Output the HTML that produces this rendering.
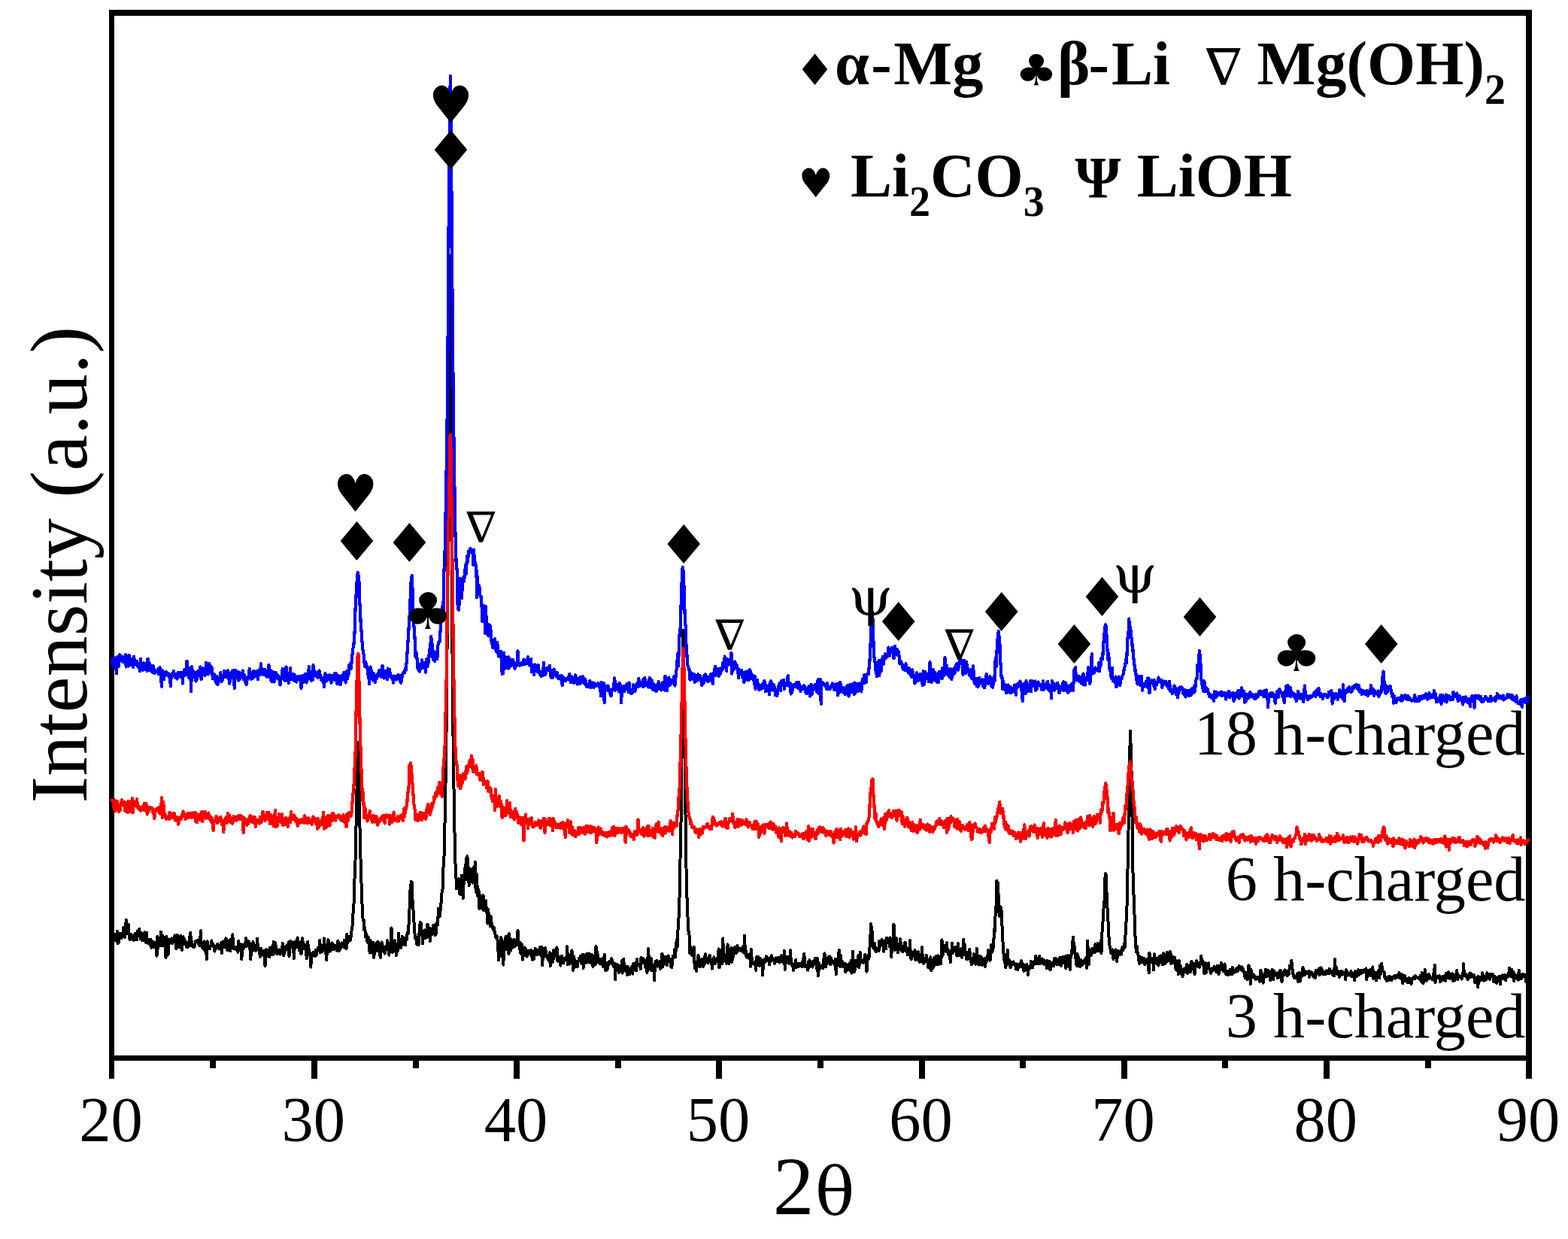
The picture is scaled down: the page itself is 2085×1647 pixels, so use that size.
<!DOCTYPE html>
<html lang="en"><head><meta charset="utf-8"><title>XRD patterns</title>
<style>html,body{margin:0;padding:0;background:#fff;overflow:hidden}svg{display:block}text{font-family:"Liberation Serif","DejaVu Serif",serif;fill:#000;font-weight:normal}text.ls{font-family:"Liberation Serif","DejaVu Serif",serif}text.lsb{font-family:"Liberation Serif","DejaVu Serif",serif;font-weight:bold}text.dm{font-family:"DejaVu Math TeX Gyre","DejaVu Serif","DejaVu Sans",serif}text.ds{font-family:"DejaVu Sans","DejaVu Serif",sans-serif}text.dsr{font-family:"DejaVu Serif","DejaVu Sans",serif}.b text, text.b{font-weight:bold}</style>
</head><body>
<svg width="2085" height="1647" viewBox="0 0 2085 1647" role="img" aria-label="XRD patterns of charged samples">
<rect width="2085" height="1647" fill="#fff"/>
<g fill="#000" shape-rendering="crispEdges">
<rect x="145" y="13" width="7" height="1421"/>
<rect x="2029" y="13" width="8" height="1421"/>
<rect x="145" y="13" width="1892" height="8"/>
<rect x="145" y="1403" width="1892" height="7"/>
<rect x="279" y="1403" width="8" height="17"/>
<rect x="414" y="1403" width="8" height="31"/>
<rect x="549" y="1403" width="8" height="17"/>
<rect x="683" y="1403" width="8" height="31"/>
<rect x="818" y="1403" width="8" height="17"/>
<rect x="952" y="1403" width="8" height="31"/>
<rect x="1087" y="1403" width="8" height="17"/>
<rect x="1222" y="1403" width="8" height="31"/>
<rect x="1356" y="1403" width="8" height="17"/>
<rect x="1491" y="1403" width="8" height="31"/>
<rect x="1625" y="1403" width="8" height="17"/>
<rect x="1760" y="1403" width="8" height="31"/>
<rect x="1895" y="1403" width="8" height="17"/>
</g>
<g fill="none" stroke-linejoin="round" stroke-linecap="round" shape-rendering="crispEdges">
<polyline stroke="#000" stroke-width="4.0" points="148.5,1247.0 149.3,1253.5 150.1,1259.6 150.9,1244.6 151.7,1245.7 152.5,1241.8 153.3,1250.0 154.1,1246.6 154.9,1250.7 155.7,1238.0 156.5,1254.3 157.3,1245.9 158.1,1252.9 158.9,1244.7 159.7,1240.8 160.5,1246.3 161.3,1247.3 162.1,1240.6 162.9,1240.6 163.7,1245.1 164.5,1232.6 165.3,1234.2 166.1,1245.8 166.9,1238.7 167.7,1222.6 168.5,1234.5 169.3,1241.0 170.1,1238.0 170.9,1228.8 171.7,1244.7 172.5,1249.2 173.3,1243.9 174.1,1241.6 174.9,1247.2 175.7,1248.8 176.5,1243.8 177.3,1247.8 178.1,1250.1 178.9,1243.9 179.7,1240.8 180.5,1246.3 181.3,1245.6 182.1,1249.5 182.9,1237.6 183.7,1240.3 184.5,1239.1 185.3,1234.6 186.1,1243.5 186.9,1248.2 187.7,1239.3 188.5,1249.8 189.3,1247.4 190.1,1250.2 190.9,1246.3 191.7,1249.5 192.5,1239.2 193.3,1249.3 194.1,1253.3 194.9,1239.5 195.7,1250.5 196.5,1248.5 197.3,1254.3 198.1,1249.2 198.9,1252.0 199.7,1256.2 200.5,1249.1 201.3,1259.8 202.1,1253.5 202.9,1256.6 203.7,1251.8 204.5,1259.4 205.3,1256.9 206.1,1252.9 206.9,1256.5 207.7,1259.1 208.5,1270.7 209.3,1244.9 210.1,1260.8 210.9,1253.8 211.7,1250.4 212.5,1246.4 213.3,1256.9 214.1,1238.4 214.9,1253.7 215.7,1257.3 216.5,1244.0 217.3,1248.7 218.1,1245.9 218.9,1254.8 219.7,1259.8 220.5,1273.0 221.3,1244.9 222.1,1250.6 222.9,1256.6 223.7,1268.8 224.5,1254.9 225.3,1249.1 226.1,1253.6 226.9,1251.7 227.7,1250.3 228.5,1247.3 229.3,1254.2 230.1,1251.4 230.9,1249.2 231.7,1247.3 232.5,1243.3 233.3,1247.0 234.1,1261.2 234.9,1247.5 235.7,1242.7 236.5,1255.7 237.3,1252.1 238.1,1259.6 238.9,1250.2 239.7,1245.6 240.5,1243.6 241.3,1256.7 242.1,1262.8 242.9,1247.4 243.7,1245.3 244.5,1254.9 245.3,1248.8 246.1,1250.5 246.9,1252.0 247.7,1254.9 248.5,1259.4 249.3,1254.7 250.1,1258.9 250.9,1252.7 251.7,1256.0 252.5,1244.4 253.3,1239.9 254.1,1257.4 254.9,1250.7 255.7,1255.9 256.5,1258.4 257.3,1259.2 258.1,1257.0 258.9,1258.1 259.7,1252.7 260.5,1250.9 261.3,1251.2 262.1,1250.2 262.9,1250.1 263.7,1253.0 264.5,1255.3 265.3,1257.1 266.1,1252.6 266.9,1237.2 267.7,1255.4 268.5,1256.6 269.3,1260.4 270.1,1260.8 270.9,1252.0 271.7,1251.5 272.5,1263.9 273.3,1258.1 274.1,1263.0 274.9,1275.4 275.7,1251.2 276.5,1256.9 277.3,1257.6 278.1,1258.4 278.9,1261.5 279.7,1257.5 280.5,1257.7 281.3,1250.4 282.1,1256.8 282.9,1254.5 283.7,1258.7 284.5,1256.3 285.3,1264.6 286.1,1262.6 286.9,1260.4 287.7,1260.6 288.5,1259.6 289.3,1254.9 290.1,1258.5 290.9,1257.0 291.7,1261.0 292.5,1259.2 293.3,1261.7 294.1,1252.9 294.9,1267.3 295.7,1255.1 296.5,1251.3 297.3,1257.3 298.1,1255.4 298.9,1259.1 299.7,1255.0 300.5,1247.2 301.3,1253.4 302.1,1263.1 302.9,1257.1 303.7,1251.4 304.5,1256.6 305.3,1249.3 306.1,1264.3 306.9,1249.1 307.7,1260.6 308.5,1258.5 309.3,1242.2 310.1,1257.7 310.9,1261.2 311.7,1259.2 312.5,1258.8 313.3,1262.4 314.1,1259.4 314.9,1260.6 315.7,1258.9 316.5,1265.8 317.3,1251.0 318.1,1263.6 318.9,1255.2 319.7,1254.9 320.5,1261.2 321.3,1275.5 322.1,1263.3 322.9,1256.3 323.7,1261.5 324.5,1256.0 325.3,1257.3 326.1,1258.1 326.9,1247.1 327.7,1258.4 328.5,1252.9 329.3,1251.1 330.1,1251.3 330.9,1251.4 331.7,1254.3 332.5,1262.6 333.3,1275.2 334.1,1259.5 334.9,1265.0 335.7,1259.1 336.5,1251.9 337.3,1262.1 338.1,1262.7 338.9,1258.8 339.7,1263.7 340.5,1263.5 341.3,1257.3 342.1,1247.5 342.9,1260.9 343.7,1260.4 344.5,1261.3 345.3,1267.9 346.1,1271.7 346.9,1260.5 347.7,1268.0 348.5,1269.3 349.3,1268.4 350.1,1269.9 350.9,1263.5 351.7,1268.4 352.5,1284.2 353.3,1268.6 354.1,1262.3 354.9,1267.8 355.7,1270.8 356.5,1266.9 357.3,1262.8 358.1,1272.2 358.9,1259.6 359.7,1267.3 360.5,1264.6 361.3,1259.0 362.1,1269.3 362.9,1264.9 363.7,1251.8 364.5,1268.1 365.3,1260.1 366.1,1253.4 366.9,1258.7 367.7,1263.0 368.5,1268.0 369.3,1263.0 370.1,1262.9 370.9,1265.0 371.7,1262.3 372.5,1268.7 373.3,1264.2 374.1,1265.0 374.9,1266.1 375.7,1253.7 376.5,1260.3 377.3,1270.1 378.1,1264.6 378.9,1261.5 379.7,1263.8 380.5,1257.3 381.3,1262.5 382.1,1257.7 382.9,1261.2 383.7,1252.3 384.5,1271.4 385.3,1253.4 386.1,1250.8 386.9,1256.7 387.7,1254.1 388.5,1259.0 389.3,1252.5 390.1,1259.5 390.9,1274.2 391.7,1252.2 392.5,1261.2 393.3,1256.6 394.1,1258.7 394.9,1249.5 395.7,1246.4 396.5,1259.0 397.3,1256.2 398.1,1263.5 398.9,1252.6 399.7,1256.3 400.5,1268.5 401.3,1251.9 402.1,1247.0 402.9,1255.9 403.7,1256.5 404.5,1261.4 405.3,1259.2 406.1,1256.4 406.9,1262.0 407.7,1274.2 408.5,1269.2 409.3,1251.9 410.1,1264.8 410.9,1262.2 411.7,1269.5 412.5,1266.2 413.3,1285.7 414.1,1271.3 414.9,1270.9 415.7,1268.4 416.5,1266.0 417.3,1267.3 418.1,1271.3 418.9,1267.4 419.7,1263.0 420.5,1270.1 421.3,1264.9 422.1,1263.4 422.9,1259.8 423.7,1260.6 424.5,1259.9 425.3,1249.6 426.1,1266.5 426.9,1263.9 427.7,1259.7 428.5,1264.9 429.3,1261.6 430.1,1262.7 430.9,1247.4 431.7,1256.2 432.5,1263.4 433.3,1265.6 434.1,1276.1 434.9,1265.1 435.7,1253.5 436.5,1249.2 437.3,1265.1 438.1,1260.1 438.9,1264.6 439.7,1259.1 440.5,1261.4 441.3,1253.3 442.1,1261.9 442.9,1255.1 443.7,1262.3 444.5,1260.4 445.3,1257.2 446.1,1258.6 446.9,1256.6 447.7,1263.7 448.5,1258.5 449.3,1250.8 450.1,1253.5 450.9,1264.4 451.7,1256.1 452.5,1261.3 453.3,1258.8 454.1,1254.4 454.9,1253.5 455.7,1257.4 456.5,1257.7 457.3,1259.0 458.1,1249.7 458.9,1252.3 459.7,1253.5 460.5,1261.3 461.3,1241.7 462.1,1254.0 462.9,1248.2 463.7,1251.4 464.5,1245.0 465.3,1246.9 466.1,1250.0 466.9,1242.2 467.7,1235.9 468.5,1231.7 469.3,1215.1 470.1,1211.4 470.9,1191.7 471.7,1160.9 472.5,1143.9 473.3,1106.0 474.1,1077.8 474.9,1021.4 475.7,987.0 476.5,998.4 477.3,1027.0 478.1,1078.6 478.9,1122.0 479.7,1147.9 480.5,1174.1 481.3,1195.8 482.1,1217.9 482.9,1223.8 483.7,1223.0 484.5,1236.6 485.3,1233.9 486.1,1245.6 486.9,1241.5 487.7,1243.6 488.5,1252.2 489.3,1252.8 490.1,1246.4 490.9,1259.0 491.7,1266.6 492.5,1250.1 493.3,1266.3 494.1,1255.2 494.9,1256.7 495.7,1258.6 496.5,1253.1 497.3,1272.9 498.1,1262.7 498.9,1257.1 499.7,1259.3 500.5,1253.5 501.3,1258.7 502.1,1264.5 502.9,1252.0 503.7,1257.7 504.5,1260.2 505.3,1269.7 506.1,1272.6 506.9,1255.0 507.7,1252.3 508.5,1264.1 509.3,1258.1 510.1,1258.4 510.9,1264.8 511.7,1267.6 512.5,1262.2 513.3,1257.5 514.1,1261.8 514.9,1250.2 515.7,1258.7 516.5,1253.7 517.3,1269.6 518.1,1261.8 518.9,1259.0 519.7,1256.4 520.5,1233.5 521.3,1265.3 522.1,1265.7 522.9,1254.5 523.7,1260.9 524.5,1260.9 525.3,1250.1 526.1,1261.5 526.9,1270.3 527.7,1257.7 528.5,1256.0 529.3,1263.9 530.1,1240.5 530.9,1256.6 531.7,1260.4 532.5,1249.4 533.3,1259.8 534.1,1253.0 534.9,1245.0 535.7,1253.4 536.5,1249.2 537.3,1254.8 538.1,1246.8 538.9,1256.5 539.7,1246.3 540.5,1249.8 541.3,1242.1 542.1,1239.2 542.9,1240.7 543.7,1225.9 544.5,1208.6 545.3,1185.3 546.1,1178.6 546.9,1172.0 547.7,1172.3 548.5,1195.6 549.3,1205.8 550.1,1220.1 550.9,1231.1 551.7,1244.0 552.5,1248.0 553.3,1245.4 554.1,1254.7 554.9,1256.0 555.7,1254.2 556.5,1256.2 557.3,1243.4 558.1,1230.7 558.9,1226.0 559.7,1226.7 560.5,1243.7 561.3,1239.7 562.1,1254.6 562.9,1242.9 563.7,1244.4 564.5,1236.4 565.3,1244.8 566.1,1246.6 566.9,1244.0 567.7,1246.1 568.5,1228.6 569.3,1233.3 570.1,1235.6 570.9,1233.7 571.7,1251.3 572.5,1240.4 573.3,1239.5 574.1,1242.4 574.9,1235.0 575.7,1235.0 576.5,1229.6 577.3,1241.1 578.1,1239.5 578.9,1243.0 579.7,1241.1 580.5,1227.2 581.3,1229.9 582.1,1229.3 582.9,1208.0 583.7,1215.4 584.5,1218.5 585.3,1212.7 586.1,1207.0 586.9,1194.2 587.7,1184.3 588.5,1182.3 589.3,1156.1 590.1,1146.3 590.9,1130.8 591.7,1083.4 592.5,1042.7 593.3,991.2 594.1,919.5 594.9,811.5 595.7,670.6 596.5,507.3 597.3,368.4 598.1,340.0 598.9,432.5 599.7,562.7 600.5,720.4 601.3,844.3 602.1,940.4 602.9,1015.7 603.7,1058.6 604.5,1106.5 605.3,1145.7 606.1,1154.4 606.9,1181.5 607.7,1181.2 608.5,1174.6 609.3,1179.0 610.1,1168.1 610.9,1187.0 611.7,1174.2 612.5,1189.4 613.3,1187.2 614.1,1163.6 614.9,1179.9 615.7,1194.2 616.5,1163.7 617.3,1174.0 618.1,1154.6 618.9,1168.5 619.7,1141.8 620.5,1169.1 621.3,1138.2 622.1,1145.1 622.9,1165.1 623.7,1176.9 624.5,1154.2 625.3,1171.6 626.1,1160.7 626.9,1158.3 627.7,1170.5 628.5,1173.6 629.3,1154.1 630.1,1167.9 630.9,1167.6 631.7,1145.5 632.5,1180.5 633.3,1186.1 634.1,1162.1 634.9,1190.8 635.7,1182.2 636.5,1183.4 637.3,1207.8 638.1,1190.2 638.9,1194.9 639.7,1202.4 640.5,1202.9 641.3,1208.7 642.1,1190.2 642.9,1191.5 643.7,1210.4 644.5,1200.5 645.3,1210.3 646.1,1197.4 646.9,1212.2 647.7,1208.5 648.5,1227.7 649.3,1209.0 650.1,1222.1 650.9,1222.7 651.7,1231.4 652.5,1218.0 653.3,1226.5 654.1,1227.0 654.9,1232.9 655.7,1234.9 656.5,1232.4 657.3,1238.8 658.1,1238.3 658.9,1245.6 659.7,1244.3 660.5,1243.9 661.3,1248.7 662.1,1252.6 662.9,1276.5 663.7,1251.1 664.5,1256.3 665.3,1271.2 666.1,1246.0 666.9,1248.3 667.7,1251.4 668.5,1256.8 669.3,1282.7 670.1,1261.3 670.9,1263.0 671.7,1255.9 672.5,1244.9 673.3,1245.6 674.1,1261.7 674.9,1257.7 675.7,1243.5 676.5,1268.2 677.3,1241.1 678.1,1262.2 678.9,1263.6 679.7,1248.6 680.5,1250.7 681.3,1259.7 682.1,1250.1 682.9,1259.1 683.7,1249.1 684.5,1258.4 685.3,1254.9 686.1,1252.5 686.9,1250.5 687.7,1256.2 688.5,1236.7 689.3,1253.5 690.1,1255.1 690.9,1261.0 691.7,1252.8 692.5,1267.6 693.3,1259.0 694.1,1255.9 694.9,1275.7 695.7,1270.4 696.5,1262.3 697.3,1259.5 698.1,1264.1 698.9,1261.1 699.7,1263.0 700.5,1271.7 701.3,1266.3 702.1,1265.2 702.9,1266.1 703.7,1264.2 704.5,1268.3 705.3,1268.5 706.1,1262.8 706.9,1265.1 707.7,1275.8 708.5,1266.9 709.3,1264.4 710.1,1274.8 710.9,1265.8 711.7,1261.0 712.5,1269.3 713.3,1262.3 714.1,1264.1 714.9,1269.4 715.7,1264.9 716.5,1262.4 717.3,1263.0 718.1,1259.4 718.9,1269.8 719.7,1261.0 720.5,1258.6 721.3,1283.3 722.1,1261.6 722.9,1271.1 723.7,1270.9 724.5,1265.1 725.3,1260.2 726.1,1269.4 726.9,1271.3 727.7,1273.4 728.5,1270.1 729.3,1275.7 730.1,1276.9 730.9,1266.2 731.7,1284.4 732.5,1271.7 733.3,1268.2 734.1,1269.2 734.9,1278.7 735.7,1274.7 736.5,1262.6 737.3,1271.0 738.1,1270.5 738.9,1270.8 739.7,1270.0 740.5,1259.5 741.3,1277.6 742.1,1270.5 742.9,1273.7 743.7,1273.3 744.5,1273.2 745.3,1283.6 746.1,1278.5 746.9,1270.5 747.7,1272.5 748.5,1274.3 749.3,1280.3 750.1,1276.3 750.9,1276.6 751.7,1273.9 752.5,1274.1 753.3,1276.1 754.1,1258.2 754.9,1282.3 755.7,1268.2 756.5,1273.2 757.3,1281.7 758.1,1277.3 758.9,1276.9 759.7,1274.7 760.5,1263.5 761.3,1279.1 762.1,1289.9 762.9,1271.4 763.7,1286.1 764.5,1275.9 765.3,1278.1 766.1,1283.9 766.9,1282.0 767.7,1285.1 768.5,1278.9 769.3,1277.5 770.1,1273.6 770.9,1275.9 771.7,1270.6 772.5,1273.5 773.3,1281.5 774.1,1275.1 774.9,1268.6 775.7,1286.9 776.5,1272.1 777.3,1269.8 778.1,1280.1 778.9,1279.5 779.7,1269.5 780.5,1268.0 781.3,1270.1 782.1,1279.2 782.9,1271.7 783.7,1267.4 784.5,1274.7 785.3,1280.1 786.1,1269.1 786.9,1273.6 787.7,1269.5 788.5,1284.9 789.3,1283.6 790.1,1280.1 790.9,1275.7 791.7,1282.5 792.5,1257.8 793.3,1279.5 794.1,1265.1 794.9,1271.7 795.7,1274.5 796.5,1274.6 797.3,1280.4 798.1,1281.3 798.9,1281.1 799.7,1275.1 800.5,1282.4 801.3,1279.3 802.1,1285.2 802.9,1276.6 803.7,1268.9 804.5,1278.8 805.3,1290.0 806.1,1282.9 806.9,1280.0 807.7,1288.8 808.5,1282.8 809.3,1282.5 810.1,1278.2 810.9,1280.4 811.7,1280.6 812.5,1276.7 813.3,1274.3 814.1,1279.3 814.9,1282.6 815.7,1284.2 816.5,1280.5 817.3,1280.7 818.1,1302.2 818.9,1281.7 819.7,1284.5 820.5,1289.2 821.3,1282.2 822.1,1283.8 822.9,1293.0 823.7,1291.7 824.5,1286.8 825.3,1288.0 826.1,1287.7 826.9,1277.3 827.7,1293.7 828.5,1288.6 829.3,1274.8 830.1,1289.5 830.9,1283.8 831.7,1287.2 832.5,1291.7 833.3,1287.6 834.1,1295.9 834.9,1284.7 835.7,1291.5 836.5,1294.7 837.3,1295.1 838.1,1291.9 838.9,1288.0 839.7,1286.8 840.5,1284.7 841.3,1294.7 842.1,1280.9 842.9,1285.3 843.7,1282.1 844.5,1283.1 845.3,1279.4 846.1,1290.5 846.9,1275.3 847.7,1281.9 848.5,1281.7 849.3,1282.8 850.1,1281.9 850.9,1283.6 851.7,1288.4 852.5,1272.9 853.3,1279.3 854.1,1274.1 854.9,1280.4 855.7,1274.5 856.5,1275.6 857.3,1279.6 858.1,1286.0 858.9,1282.6 859.7,1281.4 860.5,1292.9 861.3,1276.0 862.1,1261.1 862.9,1276.1 863.7,1277.3 864.5,1284.9 865.3,1288.8 866.1,1274.1 866.9,1290.5 867.7,1286.9 868.5,1284.1 869.3,1282.4 870.1,1303.1 870.9,1282.4 871.7,1277.7 872.5,1282.8 873.3,1276.6 874.1,1284.6 874.9,1282.2 875.7,1284.0 876.5,1284.1 877.3,1278.0 878.1,1287.9 878.9,1277.9 879.7,1285.8 880.5,1267.6 881.3,1285.3 882.1,1278.3 882.9,1281.8 883.7,1275.8 884.5,1272.1 885.3,1276.5 886.1,1281.3 886.9,1283.3 887.7,1273.8 888.5,1270.3 889.3,1274.8 890.1,1277.6 890.9,1275.8 891.7,1274.8 892.5,1285.5 893.3,1285.8 894.1,1279.2 894.9,1270.8 895.7,1273.6 896.5,1270.5 897.3,1262.1 898.1,1272.3 898.9,1258.9 899.7,1249.8 900.5,1259.6 901.3,1238.8 902.1,1227.1 902.9,1212.9 903.7,1187.7 904.5,1142.4 905.3,1103.7 906.1,1063.9 906.9,957.7 907.7,880.3 908.5,838.0 909.3,870.2 910.1,947.5 910.9,1039.3 911.7,1096.8 912.5,1153.9 913.3,1189.3 914.1,1205.2 914.9,1231.7 915.7,1239.5 916.5,1242.5 917.3,1267.4 918.1,1258.3 918.9,1266.9 919.7,1260.6 920.5,1270.5 921.3,1268.7 922.1,1270.6 922.9,1258.8 923.7,1287.4 924.5,1278.4 925.3,1281.0 926.1,1290.9 926.9,1280.8 927.7,1284.1 928.5,1270.0 929.3,1283.5 930.1,1281.1 930.9,1285.1 931.7,1283.7 932.5,1276.8 933.3,1274.6 934.1,1277.8 934.9,1284.9 935.7,1283.1 936.5,1282.5 937.3,1271.5 938.1,1268.1 938.9,1276.6 939.7,1277.6 940.5,1276.1 941.3,1280.1 942.1,1276.8 942.9,1273.0 943.7,1269.9 944.5,1278.5 945.3,1278.1 946.1,1277.0 946.9,1287.6 947.7,1276.1 948.5,1277.6 949.3,1272.3 950.1,1274.8 950.9,1281.2 951.7,1278.6 952.5,1275.2 953.3,1277.7 954.1,1276.2 954.9,1267.6 955.7,1261.4 956.5,1286.5 957.3,1279.8 958.1,1275.6 958.9,1267.8 959.7,1263.0 960.5,1280.9 961.3,1247.4 962.1,1272.1 962.9,1276.8 963.7,1272.8 964.5,1274.8 965.3,1269.3 966.1,1280.8 966.9,1264.5 967.7,1255.3 968.5,1269.2 969.3,1281.2 970.1,1266.5 970.9,1271.1 971.7,1263.4 972.5,1260.0 973.3,1278.9 974.1,1272.3 974.9,1272.0 975.7,1260.6 976.5,1259.4 977.3,1259.3 978.1,1263.5 978.9,1267.1 979.7,1266.4 980.5,1256.9 981.3,1263.9 982.1,1262.7 982.9,1262.6 983.7,1261.7 984.5,1260.6 985.3,1264.0 986.1,1261.8 986.9,1262.4 987.7,1258.5 988.5,1266.1 989.3,1262.5 990.1,1243.4 990.9,1267.5 991.7,1264.0 992.5,1272.3 993.3,1268.8 994.1,1270.6 994.9,1273.5 995.7,1273.7 996.5,1270.6 997.3,1267.6 998.1,1284.9 998.9,1261.7 999.7,1275.6 1000.5,1280.2 1001.3,1280.9 1002.1,1279.7 1002.9,1280.4 1003.7,1282.5 1004.5,1278.1 1005.3,1289.8 1006.1,1272.1 1006.9,1277.7 1007.7,1273.4 1008.5,1271.7 1009.3,1279.8 1010.1,1283.7 1010.9,1274.2 1011.7,1274.3 1012.5,1280.9 1013.3,1280.3 1014.1,1296.4 1014.9,1282.7 1015.7,1279.2 1016.5,1275.1 1017.3,1279.0 1018.1,1277.0 1018.9,1271.4 1019.7,1277.0 1020.5,1275.7 1021.3,1273.8 1022.1,1273.6 1022.9,1282.5 1023.7,1277.8 1024.5,1278.7 1025.3,1271.9 1026.1,1270.3 1026.9,1273.8 1027.7,1276.4 1028.5,1274.3 1029.3,1275.5 1030.1,1281.0 1030.9,1278.6 1031.7,1273.4 1032.5,1276.0 1033.3,1275.0 1034.1,1278.5 1034.9,1272.5 1035.7,1276.4 1036.5,1279.7 1037.3,1276.5 1038.1,1272.1 1038.9,1270.2 1039.7,1276.7 1040.5,1277.6 1041.3,1279.1 1042.1,1275.0 1042.9,1263.9 1043.7,1288.8 1044.5,1277.4 1045.3,1278.1 1046.1,1279.2 1046.9,1272.0 1047.7,1275.1 1048.5,1277.5 1049.3,1280.8 1050.1,1276.7 1050.9,1263.3 1051.7,1275.8 1052.5,1278.7 1053.3,1283.2 1054.1,1281.4 1054.9,1289.7 1055.7,1285.9 1056.5,1286.3 1057.3,1285.3 1058.1,1276.0 1058.9,1286.0 1059.7,1285.3 1060.5,1280.7 1061.3,1285.5 1062.1,1284.8 1062.9,1281.0 1063.7,1282.3 1064.5,1281.6 1065.3,1283.7 1066.1,1280.8 1066.9,1285.0 1067.7,1274.5 1068.5,1281.6 1069.3,1267.7 1070.1,1280.9 1070.9,1285.2 1071.7,1283.1 1072.5,1282.6 1073.3,1283.3 1074.1,1289.6 1074.9,1278.1 1075.7,1286.6 1076.5,1276.2 1077.3,1280.6 1078.1,1284.0 1078.9,1278.8 1079.7,1283.3 1080.5,1285.5 1081.3,1277.3 1082.1,1282.0 1082.9,1280.7 1083.7,1274.0 1084.5,1281.4 1085.3,1278.7 1086.1,1287.7 1086.9,1274.0 1087.7,1297.1 1088.5,1279.4 1089.3,1289.7 1090.1,1286.1 1090.9,1285.1 1091.7,1284.2 1092.5,1284.3 1093.3,1286.1 1094.1,1287.2 1094.9,1276.4 1095.7,1273.9 1096.5,1267.5 1097.3,1277.0 1098.1,1285.3 1098.9,1279.9 1099.7,1278.6 1100.5,1276.6 1101.3,1272.3 1102.1,1277.0 1102.9,1280.1 1103.7,1271.3 1104.5,1282.4 1105.3,1273.6 1106.1,1279.1 1106.9,1278.5 1107.7,1280.3 1108.5,1278.1 1109.3,1278.3 1110.1,1282.8 1110.9,1274.5 1111.7,1295.1 1112.5,1281.1 1113.3,1282.2 1114.1,1282.7 1114.9,1275.2 1115.7,1262.5 1116.5,1283.3 1117.3,1285.4 1118.1,1270.2 1118.9,1283.5 1119.7,1278.1 1120.5,1283.0 1121.3,1284.7 1122.1,1285.4 1122.9,1285.5 1123.7,1281.0 1124.5,1292.4 1125.3,1283.2 1126.1,1287.1 1126.9,1289.1 1127.7,1285.2 1128.5,1281.4 1129.3,1289.6 1130.1,1282.3 1130.9,1283.1 1131.7,1276.6 1132.5,1293.6 1133.3,1284.0 1134.1,1264.5 1134.9,1287.2 1135.7,1292.2 1136.5,1290.3 1137.3,1276.8 1138.1,1281.7 1138.9,1283.1 1139.7,1284.4 1140.5,1280.7 1141.3,1270.2 1142.1,1286.2 1142.9,1281.5 1143.7,1266.1 1144.5,1276.3 1145.3,1278.7 1146.1,1277.1 1146.9,1279.1 1147.7,1279.8 1148.5,1278.3 1149.3,1274.3 1150.1,1268.9 1150.9,1277.1 1151.7,1279.9 1152.5,1291.6 1153.3,1271.5 1154.1,1269.9 1154.9,1275.2 1155.7,1271.7 1156.5,1259.0 1157.3,1247.7 1158.1,1228.0 1158.9,1233.2 1159.7,1238.5 1160.5,1253.9 1161.3,1260.4 1162.1,1261.1 1162.9,1253.8 1163.7,1259.9 1164.5,1265.1 1165.3,1262.7 1166.1,1260.5 1166.9,1263.9 1167.7,1264.3 1168.5,1264.3 1169.3,1251.0 1170.1,1258.7 1170.9,1256.2 1171.7,1252.8 1172.5,1249.0 1173.3,1255.1 1174.1,1250.6 1174.9,1264.9 1175.7,1253.1 1176.5,1251.9 1177.3,1250.4 1178.1,1261.3 1178.9,1246.7 1179.7,1250.2 1180.5,1247.3 1181.3,1251.0 1182.1,1252.0 1182.9,1258.3 1183.7,1246.3 1184.5,1254.1 1185.3,1272.1 1186.1,1252.9 1186.9,1255.2 1187.7,1246.9 1188.5,1228.6 1189.3,1255.7 1190.1,1262.9 1190.9,1254.4 1191.7,1247.1 1192.5,1258.8 1193.3,1256.2 1194.1,1266.5 1194.9,1260.7 1195.7,1255.0 1196.5,1258.7 1197.3,1248.1 1198.1,1263.1 1198.9,1260.1 1199.7,1264.3 1200.5,1265.0 1201.3,1257.6 1202.1,1260.8 1202.9,1253.2 1203.7,1253.1 1204.5,1263.2 1205.3,1265.3 1206.1,1260.0 1206.9,1269.2 1207.7,1266.9 1208.5,1269.2 1209.3,1263.8 1210.1,1250.3 1210.9,1272.1 1211.7,1275.0 1212.5,1269.2 1213.3,1266.1 1214.1,1269.7 1214.9,1270.9 1215.7,1269.7 1216.5,1263.1 1217.3,1276.3 1218.1,1266.0 1218.9,1271.4 1219.7,1271.4 1220.5,1275.2 1221.3,1265.2 1222.1,1278.0 1222.9,1278.7 1223.7,1276.0 1224.5,1278.4 1225.3,1269.4 1226.1,1259.3 1226.9,1275.5 1227.7,1280.6 1228.5,1280.7 1229.3,1274.0 1230.1,1276.5 1230.9,1278.6 1231.7,1269.6 1232.5,1275.1 1233.3,1275.6 1234.1,1286.0 1234.9,1276.2 1235.7,1286.6 1236.5,1279.8 1237.3,1272.3 1238.1,1290.1 1238.9,1275.6 1239.7,1282.7 1240.5,1287.4 1241.3,1276.9 1242.1,1273.2 1242.9,1283.0 1243.7,1278.1 1244.5,1271.0 1245.3,1270.6 1246.1,1272.5 1246.9,1282.4 1247.7,1270.3 1248.5,1273.4 1249.3,1276.9 1250.1,1274.0 1250.9,1281.4 1251.7,1272.0 1252.5,1249.4 1253.3,1270.8 1254.1,1267.9 1254.9,1263.7 1255.7,1259.2 1256.5,1256.9 1257.3,1259.4 1258.1,1265.0 1258.9,1253.3 1259.7,1261.7 1260.5,1262.9 1261.3,1269.2 1262.1,1264.6 1262.9,1264.4 1263.7,1279.5 1264.5,1263.8 1265.3,1267.9 1266.1,1253.4 1266.9,1267.3 1267.7,1263.9 1268.5,1264.2 1269.3,1261.3 1270.1,1258.9 1270.9,1263.0 1271.7,1262.7 1272.5,1270.6 1273.3,1270.5 1274.1,1254.2 1274.9,1270.1 1275.7,1265.1 1276.5,1269.9 1277.3,1265.5 1278.1,1260.9 1278.9,1272.8 1279.7,1270.1 1280.5,1262.1 1281.3,1248.8 1282.1,1265.3 1282.9,1255.9 1283.7,1266.0 1284.5,1270.7 1285.3,1274.8 1286.1,1266.4 1286.9,1274.8 1287.7,1274.1 1288.5,1267.0 1289.3,1261.8 1290.1,1274.0 1290.9,1273.4 1291.7,1282.0 1292.5,1278.3 1293.3,1279.8 1294.1,1280.3 1294.9,1268.2 1295.7,1274.2 1296.5,1272.4 1297.3,1281.8 1298.1,1276.8 1298.9,1260.7 1299.7,1280.9 1300.5,1270.9 1301.3,1282.7 1302.1,1271.0 1302.9,1276.9 1303.7,1282.2 1304.5,1277.2 1305.3,1272.2 1306.1,1282.8 1306.9,1280.4 1307.7,1276.5 1308.5,1279.7 1309.3,1274.0 1310.1,1284.7 1310.9,1277.1 1311.7,1277.4 1312.5,1277.0 1313.3,1270.8 1314.1,1263.2 1314.9,1274.4 1315.7,1273.8 1316.5,1276.8 1317.3,1270.8 1318.1,1255.9 1318.9,1266.3 1319.7,1264.4 1320.5,1260.9 1321.3,1251.8 1322.1,1235.6 1322.9,1237.5 1323.7,1212.7 1324.5,1203.7 1325.3,1171.0 1326.1,1177.9 1326.9,1173.1 1327.7,1192.9 1328.5,1213.6 1329.3,1217.8 1330.1,1204.9 1330.9,1206.0 1331.7,1211.3 1332.5,1231.1 1333.3,1248.2 1334.1,1261.2 1334.9,1273.1 1335.7,1277.7 1336.5,1280.5 1337.3,1286.4 1338.1,1279.2 1338.9,1282.1 1339.7,1263.0 1340.5,1275.0 1341.3,1278.2 1342.1,1276.2 1342.9,1282.6 1343.7,1286.2 1344.5,1279.6 1345.3,1279.2 1346.1,1278.9 1346.9,1282.3 1347.7,1278.4 1348.5,1282.6 1349.3,1283.5 1350.1,1282.2 1350.9,1288.0 1351.7,1281.4 1352.5,1282.0 1353.3,1289.5 1354.1,1282.0 1354.9,1286.2 1355.7,1283.5 1356.5,1281.7 1357.3,1279.9 1358.1,1277.0 1358.9,1285.0 1359.7,1282.5 1360.5,1281.4 1361.3,1290.8 1362.1,1284.8 1362.9,1290.3 1363.7,1286.3 1364.5,1288.7 1365.3,1281.9 1366.1,1285.7 1366.9,1295.7 1367.7,1287.4 1368.5,1288.0 1369.3,1284.3 1370.1,1286.9 1370.9,1277.8 1371.7,1278.9 1372.5,1284.4 1373.3,1286.0 1374.1,1278.4 1374.9,1281.4 1375.7,1280.5 1376.5,1281.3 1377.3,1270.8 1378.1,1275.7 1378.9,1281.5 1379.7,1274.0 1380.5,1277.1 1381.3,1278.1 1382.1,1270.7 1382.9,1281.2 1383.7,1277.7 1384.5,1278.9 1385.3,1274.4 1386.1,1275.3 1386.9,1280.7 1387.7,1281.6 1388.5,1276.4 1389.3,1280.2 1390.1,1279.8 1390.9,1280.1 1391.7,1286.9 1392.5,1276.6 1393.3,1284.8 1394.1,1283.5 1394.9,1281.2 1395.7,1277.6 1396.5,1289.5 1397.3,1284.7 1398.1,1283.9 1398.9,1283.8 1399.7,1283.6 1400.5,1279.2 1401.3,1284.0 1402.1,1274.1 1402.9,1281.3 1403.7,1274.0 1404.5,1278.3 1405.3,1282.3 1406.1,1277.3 1406.9,1275.8 1407.7,1282.1 1408.5,1276.0 1409.3,1272.9 1410.1,1275.1 1410.9,1283.7 1411.7,1280.1 1412.5,1279.4 1413.3,1272.1 1414.1,1280.5 1414.9,1272.1 1415.7,1280.2 1416.5,1273.1 1417.3,1287.0 1418.1,1270.6 1418.9,1283.8 1419.7,1281.9 1420.5,1270.2 1421.3,1277.1 1422.1,1284.7 1422.9,1288.7 1423.7,1269.8 1424.5,1270.0 1425.3,1264.4 1426.1,1254.6 1426.9,1245.5 1427.7,1254.3 1428.5,1256.7 1429.3,1266.4 1430.1,1270.3 1430.9,1279.5 1431.7,1283.5 1432.5,1267.9 1433.3,1284.0 1434.1,1272.3 1434.9,1276.0 1435.7,1279.3 1436.5,1285.1 1437.3,1275.6 1438.1,1278.4 1438.9,1282.9 1439.7,1279.5 1440.5,1281.4 1441.3,1280.5 1442.1,1276.3 1442.9,1277.2 1443.7,1277.6 1444.5,1272.3 1445.3,1286.9 1446.1,1250.4 1446.9,1265.1 1447.7,1282.5 1448.5,1269.5 1449.3,1263.4 1450.1,1267.3 1450.9,1269.8 1451.7,1261.2 1452.5,1266.8 1453.3,1261.8 1454.1,1261.3 1454.9,1261.0 1455.7,1266.4 1456.5,1255.2 1457.3,1258.8 1458.1,1264.2 1458.9,1255.4 1459.7,1253.7 1460.5,1264.2 1461.3,1261.0 1462.1,1259.3 1462.9,1259.2 1463.7,1251.0 1464.5,1267.2 1465.3,1240.8 1466.1,1234.9 1466.9,1216.5 1467.7,1205.3 1468.5,1197.4 1469.3,1168.4 1470.1,1161.0 1470.9,1163.4 1471.7,1192.5 1472.5,1207.3 1473.3,1217.7 1474.1,1243.6 1474.9,1247.5 1475.7,1259.6 1476.5,1262.0 1477.3,1267.0 1478.1,1267.5 1478.9,1264.1 1479.7,1262.5 1480.5,1275.0 1481.3,1270.4 1482.1,1272.8 1482.9,1269.4 1483.7,1262.3 1484.5,1265.7 1485.3,1278.1 1486.1,1263.6 1486.9,1269.7 1487.7,1264.5 1488.5,1268.6 1489.3,1268.9 1490.1,1268.9 1490.9,1268.5 1491.7,1260.7 1492.5,1259.3 1493.3,1263.1 1494.1,1261.5 1494.9,1254.8 1495.7,1259.0 1496.5,1242.8 1497.3,1231.3 1498.1,1210.1 1498.9,1198.1 1499.7,1143.2 1500.5,1104.2 1501.3,1046.7 1502.1,1012.7 1502.9,971.5 1503.7,993.5 1504.5,1023.8 1505.3,1070.0 1506.1,1131.6 1506.9,1185.9 1507.7,1190.4 1508.5,1215.5 1509.3,1240.7 1510.1,1254.8 1510.9,1265.5 1511.7,1258.0 1512.5,1264.9 1513.3,1267.9 1514.1,1274.2 1514.9,1280.7 1515.7,1271.7 1516.5,1279.8 1517.3,1273.5 1518.1,1279.1 1518.9,1272.9 1519.7,1274.0 1520.5,1279.6 1521.3,1273.8 1522.1,1282.1 1522.9,1275.8 1523.7,1278.8 1524.5,1278.3 1525.3,1275.2 1526.1,1279.5 1526.9,1283.9 1527.7,1293.2 1528.5,1266.6 1529.3,1279.8 1530.1,1277.2 1530.9,1273.7 1531.7,1279.2 1532.5,1273.6 1533.3,1277.3 1534.1,1289.6 1534.9,1268.2 1535.7,1279.0 1536.5,1280.1 1537.3,1273.6 1538.1,1280.8 1538.9,1280.0 1539.7,1276.6 1540.5,1283.7 1541.3,1271.3 1542.1,1280.0 1542.9,1275.0 1543.7,1270.4 1544.5,1272.9 1545.3,1273.1 1546.1,1282.4 1546.9,1267.2 1547.7,1271.8 1548.5,1271.9 1549.3,1281.5 1550.1,1268.7 1550.9,1279.0 1551.7,1265.7 1552.5,1275.6 1553.3,1273.4 1554.1,1277.4 1554.9,1270.8 1555.7,1265.1 1556.5,1267.3 1557.3,1280.9 1558.1,1276.2 1558.9,1271.6 1559.7,1280.4 1560.5,1273.3 1561.3,1274.0 1562.1,1272.5 1562.9,1284.3 1563.7,1289.2 1564.5,1277.4 1565.3,1284.5 1566.1,1288.9 1566.9,1295.2 1567.7,1276.8 1568.5,1289.0 1569.3,1292.2 1570.1,1284.2 1570.9,1294.5 1571.7,1292.9 1572.5,1297.9 1573.3,1289.0 1574.1,1292.4 1574.9,1287.6 1575.7,1291.9 1576.5,1289.4 1577.3,1286.7 1578.1,1281.9 1578.9,1293.9 1579.7,1291.3 1580.5,1290.0 1581.3,1283.4 1582.1,1284.4 1582.9,1292.4 1583.7,1288.5 1584.5,1277.6 1585.3,1285.4 1586.1,1285.7 1586.9,1284.3 1587.7,1281.2 1588.5,1295.0 1589.3,1286.9 1590.1,1283.3 1590.9,1277.3 1591.7,1280.7 1592.5,1282.3 1593.3,1285.3 1594.1,1280.2 1594.9,1285.9 1595.7,1282.1 1596.5,1278.7 1597.3,1271.0 1598.1,1277.6 1598.9,1276.7 1599.7,1281.3 1600.5,1284.5 1601.3,1294.5 1602.1,1283.9 1602.9,1279.9 1603.7,1293.3 1604.5,1285.8 1605.3,1283.8 1606.1,1284.0 1606.9,1280.1 1607.7,1287.5 1608.5,1288.0 1609.3,1291.4 1610.1,1294.1 1610.9,1289.6 1611.7,1291.5 1612.5,1286.5 1613.3,1286.5 1614.1,1288.5 1614.9,1284.8 1615.7,1289.1 1616.5,1288.8 1617.3,1292.4 1618.1,1289.9 1618.9,1283.9 1619.7,1290.4 1620.5,1294.9 1621.3,1283.7 1622.1,1284.0 1622.9,1289.3 1623.7,1279.7 1624.5,1287.2 1625.3,1289.2 1626.1,1284.9 1626.9,1291.3 1627.7,1291.2 1628.5,1281.5 1629.3,1290.9 1630.1,1294.7 1630.9,1291.1 1631.7,1293.4 1632.5,1296.3 1633.3,1290.6 1634.1,1295.3 1634.9,1293.2 1635.7,1288.7 1636.5,1293.0 1637.3,1293.6 1638.1,1295.5 1638.9,1285.8 1639.7,1291.0 1640.5,1293.4 1641.3,1289.6 1642.1,1292.2 1642.9,1292.3 1643.7,1288.0 1644.5,1289.9 1645.3,1286.8 1646.1,1290.8 1646.9,1287.2 1647.7,1283.8 1648.5,1287.4 1649.3,1287.5 1650.1,1289.1 1650.9,1289.8 1651.7,1285.5 1652.5,1287.6 1653.3,1291.4 1654.1,1292.4 1654.9,1292.2 1655.7,1300.3 1656.5,1296.3 1657.3,1292.8 1658.1,1295.9 1658.9,1302.4 1659.7,1295.3 1660.5,1283.2 1661.3,1294.7 1662.1,1294.8 1662.9,1308.1 1663.7,1289.2 1664.5,1299.6 1665.3,1294.8 1666.1,1298.5 1666.9,1295.4 1667.7,1297.4 1668.5,1300.9 1669.3,1298.4 1670.1,1302.0 1670.9,1299.1 1671.7,1298.6 1672.5,1299.6 1673.3,1299.0 1674.1,1299.9 1674.9,1304.7 1675.7,1296.9 1676.5,1289.7 1677.3,1299.7 1678.1,1304.3 1678.9,1301.9 1679.7,1306.6 1680.5,1301.4 1681.3,1295.0 1682.1,1297.1 1682.9,1288.5 1683.7,1294.4 1684.5,1297.9 1685.3,1291.3 1686.1,1289.6 1686.9,1291.7 1687.7,1296.2 1688.5,1299.1 1689.3,1303.4 1690.1,1300.0 1690.9,1291.3 1691.7,1288.9 1692.5,1296.2 1693.3,1302.4 1694.1,1290.6 1694.9,1293.5 1695.7,1293.4 1696.5,1294.8 1697.3,1293.5 1698.1,1295.3 1698.9,1300.2 1699.7,1293.3 1700.5,1295.2 1701.3,1299.0 1702.1,1290.1 1702.9,1290.1 1703.7,1296.6 1704.5,1305.0 1705.3,1293.7 1706.1,1296.4 1706.9,1292.2 1707.7,1295.8 1708.5,1289.4 1709.3,1295.0 1710.1,1294.3 1710.9,1294.3 1711.7,1297.4 1712.5,1296.6 1713.3,1289.9 1714.1,1295.0 1714.9,1283.9 1715.7,1285.9 1716.5,1284.1 1717.3,1277.0 1718.1,1285.8 1718.9,1290.6 1719.7,1297.8 1720.5,1296.2 1721.3,1300.5 1722.1,1298.2 1722.9,1298.0 1723.7,1299.7 1724.5,1299.2 1725.3,1294.1 1726.1,1305.0 1726.9,1299.8 1727.7,1293.1 1728.5,1304.6 1729.3,1296.8 1730.1,1296.9 1730.9,1297.7 1731.7,1292.4 1732.5,1285.8 1733.3,1293.6 1734.1,1294.3 1734.9,1296.2 1735.7,1290.9 1736.5,1292.2 1737.3,1294.2 1738.1,1292.2 1738.9,1292.6 1739.7,1294.4 1740.5,1291.1 1741.3,1298.9 1742.1,1291.9 1742.9,1294.9 1743.7,1294.0 1744.5,1293.0 1745.3,1296.6 1746.1,1298.0 1746.9,1299.1 1747.7,1296.3 1748.5,1293.1 1749.3,1299.8 1750.1,1289.5 1750.9,1293.5 1751.7,1294.4 1752.5,1294.2 1753.3,1288.8 1754.1,1287.5 1754.9,1296.4 1755.7,1288.5 1756.5,1286.4 1757.3,1287.5 1758.1,1291.2 1758.9,1294.7 1759.7,1291.4 1760.5,1295.1 1761.3,1292.5 1762.1,1293.4 1762.9,1295.1 1763.7,1290.4 1764.5,1293.4 1765.3,1290.5 1766.1,1290.8 1766.9,1294.5 1767.7,1287.8 1768.5,1292.7 1769.3,1290.2 1770.1,1292.2 1770.9,1290.9 1771.7,1295.6 1772.5,1292.8 1773.3,1292.8 1774.1,1297.4 1774.9,1275.3 1775.7,1289.6 1776.5,1285.0 1777.3,1293.1 1778.1,1294.5 1778.9,1295.2 1779.7,1294.3 1780.5,1291.2 1781.3,1298.9 1782.1,1294.9 1782.9,1292.8 1783.7,1291.1 1784.5,1295.6 1785.3,1293.1 1786.1,1292.0 1786.9,1295.2 1787.7,1295.3 1788.5,1292.4 1789.3,1302.5 1790.1,1288.9 1790.9,1291.7 1791.7,1295.9 1792.5,1295.5 1793.3,1295.8 1794.1,1294.2 1794.9,1295.9 1795.7,1294.1 1796.5,1291.1 1797.3,1297.9 1798.1,1293.0 1798.9,1295.1 1799.7,1297.8 1800.5,1295.7 1801.3,1303.1 1802.1,1291.0 1802.9,1292.6 1803.7,1294.6 1804.5,1297.8 1805.3,1292.8 1806.1,1289.0 1806.9,1296.0 1807.7,1289.7 1808.5,1291.5 1809.3,1294.3 1810.1,1289.7 1810.9,1290.2 1811.7,1292.8 1812.5,1290.8 1813.3,1292.3 1814.1,1288.8 1814.9,1291.3 1815.7,1288.6 1816.5,1287.4 1817.3,1302.5 1818.1,1293.3 1818.9,1297.7 1819.7,1289.6 1820.5,1292.5 1821.3,1292.2 1822.1,1289.0 1822.9,1296.7 1823.7,1291.7 1824.5,1293.6 1825.3,1285.4 1826.1,1300.9 1826.9,1299.9 1827.7,1296.8 1828.5,1293.4 1829.3,1292.9 1830.1,1303.5 1830.9,1295.4 1831.7,1297.8 1832.5,1296.6 1833.3,1289.4 1834.1,1300.2 1834.9,1283.6 1835.7,1295.0 1836.5,1292.4 1837.3,1281.0 1838.1,1291.2 1838.9,1291.0 1839.7,1291.7 1840.5,1291.8 1841.3,1299.0 1842.1,1300.9 1842.9,1299.1 1843.7,1303.8 1844.5,1301.6 1845.3,1301.4 1846.1,1303.2 1846.9,1297.5 1847.7,1297.9 1848.5,1300.7 1849.3,1300.6 1850.1,1303.2 1850.9,1302.1 1851.7,1299.2 1852.5,1299.8 1853.3,1297.6 1854.1,1297.2 1854.9,1296.9 1855.7,1300.7 1856.5,1296.9 1857.3,1297.3 1858.1,1299.4 1858.9,1297.1 1859.7,1297.4 1860.5,1292.8 1861.3,1300.2 1862.1,1298.6 1862.9,1300.2 1863.7,1301.1 1864.5,1295.2 1865.3,1307.4 1866.1,1301.5 1866.9,1301.9 1867.7,1296.8 1868.5,1303.8 1869.3,1303.4 1870.1,1301.4 1870.9,1303.2 1871.7,1306.1 1872.5,1301.6 1873.3,1299.9 1874.1,1306.0 1874.9,1302.9 1875.7,1301.4 1876.5,1308.0 1877.3,1301.8 1878.1,1300.5 1878.9,1301.4 1879.7,1299.2 1880.5,1300.5 1881.3,1300.8 1882.1,1297.4 1882.9,1298.1 1883.7,1299.4 1884.5,1299.4 1885.3,1299.8 1886.1,1300.3 1886.9,1300.0 1887.7,1301.6 1888.5,1297.1 1889.3,1297.1 1890.1,1304.8 1890.9,1293.0 1891.7,1299.5 1892.5,1307.3 1893.3,1293.6 1894.1,1302.9 1894.9,1289.0 1895.7,1300.0 1896.5,1303.5 1897.3,1303.2 1898.1,1296.6 1898.9,1295.6 1899.7,1295.2 1900.5,1301.1 1901.3,1298.0 1902.1,1299.2 1902.9,1299.6 1903.7,1299.9 1904.5,1302.0 1905.3,1299.0 1906.1,1294.2 1906.9,1302.7 1907.7,1283.0 1908.5,1306.2 1909.3,1297.4 1910.1,1298.8 1910.9,1298.1 1911.7,1298.8 1912.5,1300.0 1913.3,1299.4 1914.1,1297.3 1914.9,1305.4 1915.7,1298.8 1916.5,1304.1 1917.3,1299.6 1918.1,1298.3 1918.9,1301.4 1919.7,1302.5 1920.5,1297.5 1921.3,1299.1 1922.1,1303.7 1922.9,1294.0 1923.7,1294.7 1924.5,1300.4 1925.3,1292.3 1926.1,1292.3 1926.9,1294.2 1927.7,1300.8 1928.5,1300.0 1929.3,1299.6 1930.1,1298.9 1930.9,1294.3 1931.7,1301.5 1932.5,1304.2 1933.3,1295.6 1934.1,1303.1 1934.9,1296.6 1935.7,1298.3 1936.5,1298.9 1937.3,1289.6 1938.1,1302.1 1938.9,1295.9 1939.7,1297.7 1940.5,1296.8 1941.3,1299.3 1942.1,1299.1 1942.9,1298.0 1943.7,1301.5 1944.5,1298.3 1945.3,1296.4 1946.1,1281.1 1946.9,1296.6 1947.7,1296.6 1948.5,1295.0 1949.3,1295.0 1950.1,1298.9 1950.9,1300.1 1951.7,1302.4 1952.5,1300.3 1953.3,1295.3 1954.1,1298.7 1954.9,1293.4 1955.7,1299.0 1956.5,1298.0 1957.3,1295.4 1958.1,1296.8 1958.9,1296.6 1959.7,1295.7 1960.5,1301.2 1961.3,1306.3 1962.1,1300.5 1962.9,1304.8 1963.7,1299.4 1964.5,1298.4 1965.3,1312.3 1966.1,1298.0 1966.9,1301.2 1967.7,1299.7 1968.5,1303.8 1969.3,1300.2 1970.1,1301.9 1970.9,1293.2 1971.7,1299.8 1972.5,1303.6 1973.3,1297.1 1974.1,1297.9 1974.9,1303.2 1975.7,1300.5 1976.5,1302.2 1977.3,1293.2 1978.1,1299.5 1978.9,1295.5 1979.7,1295.1 1980.5,1299.8 1981.3,1301.7 1982.1,1294.5 1982.9,1295.5 1983.7,1297.0 1984.5,1298.3 1985.3,1295.3 1986.1,1305.1 1986.9,1301.0 1987.7,1297.8 1988.5,1298.7 1989.3,1306.5 1990.1,1306.6 1990.9,1299.5 1991.7,1301.8 1992.5,1304.3 1993.3,1297.8 1994.1,1299.3 1994.9,1308.4 1995.7,1298.7 1996.5,1299.2 1997.3,1296.5 1998.1,1297.8 1998.9,1301.4 1999.7,1297.2 2000.5,1295.6 2001.3,1297.1 2002.1,1303.2 2002.9,1298.7 2003.7,1296.4 2004.5,1297.9 2005.3,1298.4 2006.1,1297.2 2006.9,1286.5 2007.7,1297.1 2008.5,1295.6 2009.3,1298.3 2010.1,1288.4 2010.9,1298.8 2011.7,1294.9 2012.5,1291.9 2013.3,1304.1 2014.1,1295.6 2014.9,1298.3 2015.7,1297.2 2016.5,1300.8 2017.3,1301.1 2018.1,1301.3 2018.9,1302.5 2019.7,1289.6 2020.5,1294.2 2021.3,1299.2 2022.1,1296.2 2022.9,1301.3 2023.7,1299.1 2024.5,1294.8 2025.3,1295.7 2026.1,1295.4 2026.9,1295.9 2027.7,1297.5 2028.5,1299.7 2029.3,1305.2 2030.1,1295.1 2030.9,1296.0 2031.7,1301.5 2032.5,1299.7"/>
<polyline stroke="#f00" stroke-width="4.2" points="148.5,1063.6 149.3,1064.3 150.1,1064.0 150.9,1064.1 151.7,1075.0 152.5,1063.5 153.3,1077.8 154.1,1075.3 154.9,1069.4 155.7,1065.3 156.5,1073.0 157.3,1075.8 158.1,1079.4 158.9,1078.1 159.7,1076.7 160.5,1068.6 161.3,1066.8 162.1,1063.4 162.9,1065.5 163.7,1068.7 164.5,1071.1 165.3,1065.7 166.1,1077.8 166.9,1071.2 167.7,1066.8 168.5,1069.3 169.3,1080.2 170.1,1073.1 170.9,1065.0 171.7,1068.4 172.5,1078.8 173.3,1066.6 174.1,1075.4 174.9,1075.9 175.7,1061.2 176.5,1080.7 177.3,1068.7 178.1,1065.1 178.9,1066.9 179.7,1070.9 180.5,1071.6 181.3,1070.0 182.1,1062.4 182.9,1073.1 183.7,1074.0 184.5,1075.3 185.3,1072.4 186.1,1076.2 186.9,1077.5 187.7,1072.8 188.5,1074.2 189.3,1073.9 190.1,1074.7 190.9,1076.7 191.7,1067.7 192.5,1073.6 193.3,1077.3 194.1,1068.0 194.9,1070.9 195.7,1082.5 196.5,1072.7 197.3,1073.1 198.1,1078.1 198.9,1074.9 199.7,1073.3 200.5,1074.4 201.3,1074.5 202.1,1073.7 202.9,1077.0 203.7,1081.4 204.5,1076.6 205.3,1088.0 206.1,1077.9 206.9,1078.4 207.7,1077.7 208.5,1074.7 209.3,1077.8 210.1,1077.9 210.9,1073.3 211.7,1080.8 212.5,1080.9 213.3,1082.3 214.1,1078.1 214.9,1060.4 215.7,1087.0 216.5,1081.7 217.3,1065.9 218.1,1085.7 218.9,1081.1 219.7,1086.6 220.5,1084.0 221.3,1088.8 222.1,1085.6 222.9,1085.8 223.7,1085.3 224.5,1089.1 225.3,1079.7 226.1,1088.4 226.9,1086.4 227.7,1081.5 228.5,1083.3 229.3,1081.6 230.1,1083.4 230.9,1086.8 231.7,1081.2 232.5,1089.8 233.3,1088.0 234.1,1087.5 234.9,1091.4 235.7,1085.9 236.5,1091.9 237.3,1095.8 238.1,1087.1 238.9,1086.6 239.7,1087.1 240.5,1089.1 241.3,1084.6 242.1,1085.8 242.9,1080.3 243.7,1078.6 244.5,1082.9 245.3,1082.4 246.1,1085.0 246.9,1089.1 247.7,1083.6 248.5,1081.7 249.3,1087.1 250.1,1087.2 250.9,1080.6 251.7,1086.3 252.5,1081.0 253.3,1082.1 254.1,1081.4 254.9,1086.6 255.7,1080.5 256.5,1082.2 257.3,1084.6 258.1,1086.9 258.9,1087.6 259.7,1079.9 260.5,1092.6 261.3,1085.0 262.1,1093.1 262.9,1088.0 263.7,1082.5 264.5,1084.6 265.3,1083.4 266.1,1085.7 266.9,1090.0 267.7,1084.2 268.5,1078.8 269.3,1092.4 270.1,1079.8 270.9,1083.2 271.7,1083.1 272.5,1078.8 273.3,1086.3 274.1,1087.7 274.9,1084.2 275.7,1085.4 276.5,1085.4 277.3,1080.6 278.1,1088.5 278.9,1084.0 279.7,1085.7 280.5,1091.0 281.3,1093.3 282.1,1087.3 282.9,1094.6 283.7,1103.8 284.5,1091.4 285.3,1090.6 286.1,1091.6 286.9,1088.1 287.7,1084.9 288.5,1093.7 289.3,1094.2 290.1,1088.3 290.9,1090.9 291.7,1090.5 292.5,1090.4 293.3,1086.0 294.1,1087.9 294.9,1096.2 295.7,1091.8 296.5,1093.1 297.3,1105.9 298.1,1090.9 298.9,1094.4 299.7,1087.5 300.5,1089.9 301.3,1094.3 302.1,1090.8 302.9,1081.0 303.7,1086.0 304.5,1092.3 305.3,1084.0 306.1,1092.9 306.9,1091.2 307.7,1088.8 308.5,1089.3 309.3,1094.7 310.1,1088.9 310.9,1085.0 311.7,1089.0 312.5,1086.2 313.3,1086.2 314.1,1090.7 314.9,1087.4 315.7,1089.6 316.5,1085.3 317.3,1084.4 318.1,1085.0 318.9,1089.2 319.7,1084.1 320.5,1086.1 321.3,1084.9 322.1,1085.7 322.9,1087.5 323.7,1106.9 324.5,1086.9 325.3,1090.9 326.1,1090.5 326.9,1089.7 327.7,1090.4 328.5,1097.0 329.3,1089.2 330.1,1095.4 330.9,1091.8 331.7,1086.3 332.5,1084.4 333.3,1087.4 334.1,1085.1 334.9,1092.8 335.7,1091.9 336.5,1092.9 337.3,1085.8 338.1,1091.3 338.9,1086.1 339.7,1098.8 340.5,1090.5 341.3,1092.2 342.1,1092.9 342.9,1090.0 343.7,1090.4 344.5,1090.4 345.3,1094.6 346.1,1085.9 346.9,1090.3 347.7,1092.8 348.5,1088.4 349.3,1079.2 350.1,1079.8 350.9,1085.0 351.7,1084.4 352.5,1090.9 353.3,1087.4 354.1,1087.0 354.9,1079.7 355.7,1088.9 356.5,1085.9 357.3,1080.1 358.1,1082.5 358.9,1095.5 359.7,1082.8 360.5,1084.4 361.3,1091.5 362.1,1090.2 362.9,1085.7 363.7,1098.0 364.5,1083.3 365.3,1087.0 366.1,1077.0 366.9,1099.1 367.7,1089.7 368.5,1098.7 369.3,1091.6 370.1,1091.9 370.9,1082.1 371.7,1086.3 372.5,1086.7 373.3,1093.3 374.1,1086.7 374.9,1082.3 375.7,1093.4 376.5,1097.1 377.3,1088.0 378.1,1093.0 378.9,1095.7 379.7,1096.2 380.5,1087.2 381.3,1092.9 382.1,1090.1 382.9,1099.2 383.7,1092.7 384.5,1088.0 385.3,1092.1 386.1,1093.2 386.9,1079.3 387.7,1085.8 388.5,1087.8 389.3,1088.9 390.1,1085.3 390.9,1083.6 391.7,1084.6 392.5,1090.0 393.3,1091.8 394.1,1087.8 394.9,1091.7 395.7,1097.9 396.5,1091.1 397.3,1090.5 398.1,1089.8 398.9,1093.7 399.7,1092.8 400.5,1092.7 401.3,1088.6 402.1,1092.6 402.9,1092.2 403.7,1089.1 404.5,1093.9 405.3,1084.2 406.1,1091.5 406.9,1088.2 407.7,1091.2 408.5,1094.5 409.3,1088.1 410.1,1087.3 410.9,1087.9 411.7,1092.9 412.5,1093.8 413.3,1089.6 414.1,1091.6 414.9,1096.0 415.7,1092.1 416.5,1085.5 417.3,1088.1 418.1,1087.5 418.9,1092.4 419.7,1089.1 420.5,1095.6 421.3,1089.1 422.1,1101.8 422.9,1088.1 423.7,1099.9 424.5,1091.5 425.3,1095.0 426.1,1096.9 426.9,1096.3 427.7,1094.0 428.5,1088.0 429.3,1088.0 430.1,1079.9 430.9,1101.7 431.7,1100.2 432.5,1098.4 433.3,1086.7 434.1,1099.8 434.9,1085.4 435.7,1092.7 436.5,1083.8 437.3,1086.9 438.1,1097.9 438.9,1096.1 439.7,1084.3 440.5,1087.4 441.3,1091.4 442.1,1081.0 442.9,1089.9 443.7,1081.7 444.5,1089.3 445.3,1086.2 446.1,1090.5 446.9,1085.3 447.7,1084.7 448.5,1085.9 449.3,1083.8 450.1,1085.2 450.9,1083.6 451.7,1085.2 452.5,1089.6 453.3,1086.1 454.1,1091.1 454.9,1089.8 455.7,1090.2 456.5,1083.1 457.3,1089.0 458.1,1092.9 458.9,1091.2 459.7,1092.4 460.5,1099.4 461.3,1082.3 462.1,1089.3 462.9,1090.8 463.7,1085.2 464.5,1079.8 465.3,1083.2 466.1,1079.7 466.9,1084.7 467.7,1078.6 468.5,1066.9 469.3,1057.4 470.1,1048.6 470.9,1038.8 471.7,1017.2 472.5,1006.4 473.3,957.4 474.1,926.1 474.9,891.7 475.7,869.9 476.5,869.0 477.3,899.2 478.1,938.1 478.9,977.5 479.7,1000.6 480.5,1025.0 481.3,1044.2 482.1,1063.3 482.9,1053.5 483.7,1072.6 484.5,1087.2 485.3,1072.2 486.1,1085.3 486.9,1086.9 487.7,1083.4 488.5,1091.6 489.3,1090.0 490.1,1084.6 490.9,1087.4 491.7,1078.1 492.5,1083.7 493.3,1086.7 494.1,1086.5 494.9,1092.8 495.7,1086.9 496.5,1083.9 497.3,1091.8 498.1,1092.5 498.9,1091.2 499.7,1089.8 500.5,1085.2 501.3,1088.8 502.1,1096.6 502.9,1094.1 503.7,1091.7 504.5,1092.6 505.3,1088.8 506.1,1087.6 506.9,1089.0 507.7,1090.3 508.5,1084.5 509.3,1085.1 510.1,1083.9 510.9,1088.3 511.7,1094.6 512.5,1084.9 513.3,1085.4 514.1,1083.5 514.9,1085.6 515.7,1084.5 516.5,1084.8 517.3,1084.1 518.1,1095.7 518.9,1087.0 519.7,1084.6 520.5,1085.0 521.3,1093.1 522.1,1090.0 522.9,1087.4 523.7,1079.4 524.5,1090.1 525.3,1090.5 526.1,1089.6 526.9,1088.7 527.7,1087.8 528.5,1091.7 529.3,1085.3 530.1,1091.5 530.9,1086.1 531.7,1086.5 532.5,1084.3 533.3,1085.4 534.1,1085.1 534.9,1088.9 535.7,1091.0 536.5,1081.5 537.3,1074.5 538.1,1085.5 538.9,1076.9 539.7,1076.0 540.5,1071.8 541.3,1068.3 542.1,1053.3 542.9,1052.7 543.7,1044.6 544.5,1017.5 545.3,1015.7 546.1,1014.0 546.9,1022.5 547.7,1031.8 548.5,1041.6 549.3,1052.7 550.1,1066.4 550.9,1072.3 551.7,1076.7 552.5,1089.8 553.3,1088.6 554.1,1082.6 554.9,1088.9 555.7,1090.7 556.5,1085.8 557.3,1089.4 558.1,1082.0 558.9,1079.7 559.7,1088.3 560.5,1088.4 561.3,1090.0 562.1,1083.5 562.9,1080.6 563.7,1082.4 564.5,1081.7 565.3,1086.2 566.1,1088.6 566.9,1083.4 567.7,1073.7 568.5,1074.7 569.3,1069.0 570.1,1076.7 570.9,1075.7 571.7,1082.9 572.5,1076.6 573.3,1078.2 574.1,1068.4 574.9,1073.1 575.7,1068.1 576.5,1066.8 577.3,1058.8 578.1,1061.2 578.9,1054.2 579.7,1059.0 580.5,1052.3 581.3,1057.0 582.1,1046.9 582.9,1050.6 583.7,1050.2 584.5,1039.9 585.3,1055.5 586.1,1048.7 586.9,1041.1 587.7,1059.3 588.5,1043.6 589.3,1019.9 590.1,1019.3 590.9,1002.4 591.7,990.0 592.5,950.1 593.3,922.3 594.1,875.5 594.9,795.7 595.7,747.8 596.5,681.3 597.3,616.2 598.1,581.1 598.9,578.0 599.7,604.5 600.5,662.7 601.3,734.3 602.1,796.5 602.9,878.1 603.7,916.6 604.5,957.5 605.3,989.3 606.1,1012.8 606.9,1012.7 607.7,1018.7 608.5,1036.2 609.3,1045.0 610.1,1037.4 610.9,1030.8 611.7,1048.0 612.5,1047.9 613.3,1043.3 614.1,1042.8 614.9,1039.2 615.7,1028.4 616.5,1033.6 617.3,1036.1 618.1,1032.1 618.9,1035.1 619.7,1022.3 620.5,1018.6 621.3,1027.6 622.1,1018.3 622.9,1019.4 623.7,1019.1 624.5,1011.9 625.3,1010.4 626.1,1019.3 626.9,1004.5 627.7,1021.0 628.5,1009.1 629.3,1025.9 630.1,1020.7 630.9,1021.6 631.7,1026.3 632.5,1023.6 633.3,1017.5 634.1,1029.4 634.9,1027.1 635.7,1029.7 636.5,1028.2 637.3,1029.0 638.1,1035.9 638.9,1037.2 639.7,1035.0 640.5,1029.3 641.3,1026.4 642.1,1026.7 642.9,1043.0 643.7,1041.2 644.5,1040.2 645.3,1039.3 646.1,1038.9 646.9,1047.2 647.7,1040.3 648.5,1038.3 649.3,1051.6 650.1,1052.2 650.9,1050.7 651.7,1047.2 652.5,1048.9 653.3,1059.5 654.1,1059.1 654.9,1064.9 655.7,1057.7 656.5,1060.3 657.3,1057.8 658.1,1077.0 658.9,1049.1 659.7,1067.1 660.5,1072.1 661.3,1062.8 662.1,1062.0 662.9,1064.9 663.7,1058.0 664.5,1072.2 665.3,1071.5 666.1,1065.4 666.9,1071.6 667.7,1087.3 668.5,1074.7 669.3,1073.3 670.1,1084.6 670.9,1074.4 671.7,1076.6 672.5,1084.4 673.3,1079.5 674.1,1064.3 674.9,1072.7 675.7,1071.3 676.5,1077.6 677.3,1081.4 678.1,1067.4 678.9,1086.4 679.7,1085.7 680.5,1084.3 681.3,1078.8 682.1,1081.9 682.9,1084.0 683.7,1089.6 684.5,1087.2 685.3,1075.0 686.1,1080.7 686.9,1079.6 687.7,1081.7 688.5,1085.9 689.3,1094.2 690.1,1086.0 690.9,1091.0 691.7,1089.4 692.5,1089.4 693.3,1096.4 694.1,1086.7 694.9,1093.5 695.7,1098.9 696.5,1117.5 697.3,1090.1 698.1,1088.8 698.9,1082.7 699.7,1089.3 700.5,1092.6 701.3,1092.9 702.1,1101.5 702.9,1092.3 703.7,1095.0 704.5,1088.3 705.3,1089.6 706.1,1094.6 706.9,1087.2 707.7,1096.5 708.5,1099.6 709.3,1097.0 710.1,1098.5 710.9,1096.9 711.7,1092.8 712.5,1097.1 713.3,1094.6 714.1,1096.6 714.9,1096.1 715.7,1095.8 716.5,1090.3 717.3,1094.3 718.1,1100.4 718.9,1100.8 719.7,1093.0 720.5,1091.2 721.3,1097.3 722.1,1093.9 722.9,1087.8 723.7,1092.7 724.5,1107.0 725.3,1089.0 726.1,1095.5 726.9,1093.0 727.7,1095.8 728.5,1094.9 729.3,1093.6 730.1,1087.8 730.9,1096.2 731.7,1097.2 732.5,1096.6 733.3,1088.8 734.1,1092.0 734.9,1104.4 735.7,1087.8 736.5,1095.1 737.3,1091.7 738.1,1094.0 738.9,1097.4 739.7,1100.1 740.5,1096.7 741.3,1096.0 742.1,1097.3 742.9,1100.0 743.7,1096.2 744.5,1096.4 745.3,1100.8 746.1,1094.2 746.9,1096.5 747.7,1093.8 748.5,1093.0 749.3,1102.3 750.1,1094.9 750.9,1099.3 751.7,1112.8 752.5,1099.8 753.3,1096.9 754.1,1096.0 754.9,1090.4 755.7,1096.3 756.5,1097.0 757.3,1107.3 758.1,1103.7 758.9,1092.2 759.7,1104.8 760.5,1098.3 761.3,1110.1 762.1,1109.5 762.9,1107.3 763.7,1104.1 764.5,1111.9 765.3,1112.3 766.1,1110.3 766.9,1108.3 767.7,1105.6 768.5,1109.2 769.3,1100.3 770.1,1108.8 770.9,1106.4 771.7,1099.8 772.5,1106.7 773.3,1104.6 774.1,1101.6 774.9,1103.9 775.7,1106.7 776.5,1100.0 777.3,1100.1 778.1,1108.9 778.9,1104.9 779.7,1097.7 780.5,1104.1 781.3,1098.0 782.1,1106.3 782.9,1105.0 783.7,1105.8 784.5,1098.9 785.3,1098.3 786.1,1107.1 786.9,1099.2 787.7,1105.6 788.5,1102.8 789.3,1104.0 790.1,1100.1 790.9,1104.7 791.7,1105.0 792.5,1105.3 793.3,1120.1 794.1,1101.8 794.9,1103.1 795.7,1099.6 796.5,1109.7 797.3,1103.1 798.1,1107.5 798.9,1101.5 799.7,1105.0 800.5,1108.4 801.3,1110.1 802.1,1106.1 802.9,1110.4 803.7,1108.4 804.5,1111.5 805.3,1107.2 806.1,1110.4 806.9,1106.6 807.7,1112.6 808.5,1108.1 809.3,1108.0 810.1,1105.6 810.9,1110.6 811.7,1107.3 812.5,1104.8 813.3,1110.4 814.1,1100.1 814.9,1108.6 815.7,1110.1 816.5,1098.9 817.3,1111.3 818.1,1108.8 818.9,1105.6 819.7,1106.3 820.5,1101.2 821.3,1107.3 822.1,1106.6 822.9,1100.9 823.7,1105.5 824.5,1102.1 825.3,1106.5 826.1,1103.0 826.9,1106.6 827.7,1100.7 828.5,1101.3 829.3,1103.5 830.1,1103.8 830.9,1108.2 831.7,1119.7 832.5,1098.8 833.3,1110.0 834.1,1103.4 834.9,1103.7 835.7,1102.9 836.5,1104.6 837.3,1106.1 838.1,1109.9 838.9,1112.1 839.7,1109.6 840.5,1109.0 841.3,1111.2 842.1,1112.4 842.9,1115.8 843.7,1106.4 844.5,1104.8 845.3,1108.4 846.1,1110.1 846.9,1107.1 847.7,1109.2 848.5,1089.5 849.3,1105.2 850.1,1102.6 850.9,1102.8 851.7,1105.0 852.5,1106.0 853.3,1108.9 854.1,1103.1 854.9,1100.3 855.7,1106.9 856.5,1111.7 857.3,1105.6 858.1,1105.2 858.9,1101.3 859.7,1105.6 860.5,1109.8 861.3,1098.0 862.1,1111.5 862.9,1098.2 863.7,1109.9 864.5,1107.7 865.3,1104.0 866.1,1106.6 866.9,1110.4 867.7,1101.1 868.5,1112.6 869.3,1108.1 870.1,1104.0 870.9,1113.8 871.7,1098.1 872.5,1103.1 873.3,1094.8 874.1,1103.5 874.9,1105.6 875.7,1092.5 876.5,1105.4 877.3,1105.7 878.1,1100.7 878.9,1105.1 879.7,1109.2 880.5,1106.6 881.3,1110.9 882.1,1101.6 882.9,1100.4 883.7,1108.1 884.5,1098.9 885.3,1106.9 886.1,1102.2 886.9,1104.0 887.7,1100.1 888.5,1104.4 889.3,1105.1 890.1,1104.5 890.9,1102.0 891.7,1090.8 892.5,1103.4 893.3,1100.6 894.1,1109.0 894.9,1094.1 895.7,1101.4 896.5,1093.7 897.3,1094.9 898.1,1096.1 898.9,1093.3 899.7,1097.8 900.5,1084.1 901.3,1078.6 902.1,1071.2 902.9,1052.7 903.7,1047.0 904.5,1017.2 905.3,987.2 906.1,959.3 906.9,918.3 907.7,883.6 908.5,862.0 909.3,882.5 910.1,917.4 910.9,954.6 911.7,997.2 912.5,1021.5 913.3,1043.3 914.1,1060.0 914.9,1074.1 915.7,1082.2 916.5,1085.5 917.3,1086.5 918.1,1095.2 918.9,1092.7 919.7,1096.0 920.5,1100.3 921.3,1099.3 922.1,1098.6 922.9,1099.0 923.7,1101.7 924.5,1105.9 925.3,1106.8 926.1,1102.3 926.9,1106.7 927.7,1105.2 928.5,1103.6 929.3,1113.3 930.1,1102.3 930.9,1101.7 931.7,1104.5 932.5,1108.8 933.3,1101.9 934.1,1107.1 934.9,1098.6 935.7,1100.0 936.5,1100.0 937.3,1099.2 938.1,1099.6 938.9,1098.6 939.7,1097.8 940.5,1094.8 941.3,1099.7 942.1,1098.1 942.9,1098.7 943.7,1101.8 944.5,1099.4 945.3,1098.3 946.1,1102.1 946.9,1094.5 947.7,1086.1 948.5,1094.4 949.3,1087.8 950.1,1094.8 950.9,1094.5 951.7,1094.8 952.5,1097.5 953.3,1096.9 954.1,1096.2 954.9,1095.3 955.7,1093.9 956.5,1093.5 957.3,1095.4 958.1,1094.3 958.9,1092.2 959.7,1094.6 960.5,1098.5 961.3,1096.3 962.1,1093.1 962.9,1096.5 963.7,1097.5 964.5,1087.7 965.3,1100.1 966.1,1097.7 966.9,1092.6 967.7,1101.1 968.5,1092.8 969.3,1093.6 970.1,1088.1 970.9,1089.4 971.7,1090.4 972.5,1091.4 973.3,1089.1 974.1,1081.7 974.9,1089.4 975.7,1095.2 976.5,1092.9 977.3,1100.4 978.1,1099.7 978.9,1094.6 979.7,1096.1 980.5,1089.1 981.3,1097.5 982.1,1098.5 982.9,1089.5 983.7,1091.5 984.5,1091.9 985.3,1096.0 986.1,1096.9 986.9,1090.0 987.7,1092.0 988.5,1095.1 989.3,1094.2 990.1,1092.7 990.9,1095.6 991.7,1091.1 992.5,1089.4 993.3,1096.6 994.1,1097.3 994.9,1099.5 995.7,1094.4 996.5,1093.0 997.3,1097.1 998.1,1096.2 998.9,1096.9 999.7,1096.7 1000.5,1101.7 1001.3,1098.6 1002.1,1102.3 1002.9,1095.9 1003.7,1092.0 1004.5,1102.0 1005.3,1091.5 1006.1,1092.3 1006.9,1096.6 1007.7,1094.7 1008.5,1102.6 1009.3,1113.3 1010.1,1105.8 1010.9,1107.8 1011.7,1099.7 1012.5,1098.6 1013.3,1105.6 1014.1,1097.6 1014.9,1096.2 1015.7,1098.1 1016.5,1108.0 1017.3,1101.3 1018.1,1098.8 1018.9,1095.7 1019.7,1095.7 1020.5,1099.4 1021.3,1097.7 1022.1,1095.3 1022.9,1101.3 1023.7,1093.4 1024.5,1092.6 1025.3,1097.3 1026.1,1102.0 1026.9,1101.3 1027.7,1102.6 1028.5,1094.9 1029.3,1102.4 1030.1,1102.0 1030.9,1101.5 1031.7,1099.2 1032.5,1107.3 1033.3,1104.2 1034.1,1102.5 1034.9,1107.0 1035.7,1113.0 1036.5,1100.3 1037.3,1106.2 1038.1,1111.4 1038.9,1118.3 1039.7,1102.7 1040.5,1104.5 1041.3,1099.8 1042.1,1106.4 1042.9,1101.6 1043.7,1103.3 1044.5,1111.3 1045.3,1102.9 1046.1,1094.5 1046.9,1107.0 1047.7,1107.7 1048.5,1107.9 1049.3,1111.1 1050.1,1105.3 1050.9,1106.9 1051.7,1110.2 1052.5,1107.2 1053.3,1113.5 1054.1,1112.6 1054.9,1109.9 1055.7,1109.7 1056.5,1111.1 1057.3,1112.1 1058.1,1104.9 1058.9,1107.3 1059.7,1109.1 1060.5,1108.9 1061.3,1107.3 1062.1,1109.6 1062.9,1111.7 1063.7,1110.1 1064.5,1112.1 1065.3,1111.8 1066.1,1110.4 1066.9,1109.0 1067.7,1107.8 1068.5,1115.3 1069.3,1108.6 1070.1,1110.8 1070.9,1112.7 1071.7,1111.3 1072.5,1104.9 1073.3,1107.6 1074.1,1116.5 1074.9,1098.3 1075.7,1118.0 1076.5,1106.2 1077.3,1110.0 1078.1,1113.1 1078.9,1101.9 1079.7,1112.5 1080.5,1101.8 1081.3,1108.3 1082.1,1106.4 1082.9,1109.6 1083.7,1112.6 1084.5,1115.1 1085.3,1111.1 1086.1,1105.9 1086.9,1104.0 1087.7,1108.2 1088.5,1102.1 1089.3,1099.6 1090.1,1099.2 1090.9,1104.7 1091.7,1104.6 1092.5,1106.0 1093.3,1106.3 1094.1,1100.3 1094.9,1106.5 1095.7,1101.7 1096.5,1107.0 1097.3,1105.6 1098.1,1111.0 1098.9,1107.3 1099.7,1104.6 1100.5,1105.8 1101.3,1107.1 1102.1,1109.2 1102.9,1110.2 1103.7,1105.1 1104.5,1105.0 1105.3,1111.0 1106.1,1108.9 1106.9,1112.6 1107.7,1112.0 1108.5,1120.6 1109.3,1113.5 1110.1,1105.8 1110.9,1106.3 1111.7,1113.1 1112.5,1101.9 1113.3,1109.7 1114.1,1111.7 1114.9,1113.0 1115.7,1111.9 1116.5,1103.9 1117.3,1116.2 1118.1,1101.7 1118.9,1108.2 1119.7,1105.3 1120.5,1110.9 1121.3,1106.9 1122.1,1108.5 1122.9,1109.1 1123.7,1107.4 1124.5,1102.9 1125.3,1112.3 1126.1,1109.6 1126.9,1110.3 1127.7,1102.1 1128.5,1101.5 1129.3,1113.5 1130.1,1110.6 1130.9,1102.7 1131.7,1111.2 1132.5,1109.2 1133.3,1106.0 1134.1,1108.0 1134.9,1115.6 1135.7,1107.5 1136.5,1111.6 1137.3,1107.6 1138.1,1099.4 1138.9,1118.3 1139.7,1112.6 1140.5,1108.9 1141.3,1109.1 1142.1,1109.1 1142.9,1106.2 1143.7,1110.6 1144.5,1110.7 1145.3,1104.7 1146.1,1107.2 1146.9,1102.4 1147.7,1106.7 1148.5,1098.5 1149.3,1103.7 1150.1,1107.7 1150.9,1100.5 1151.7,1108.8 1152.5,1094.1 1153.3,1094.4 1154.1,1091.2 1154.9,1090.5 1155.7,1085.2 1156.5,1072.4 1157.3,1053.8 1158.1,1056.5 1158.9,1040.0 1159.7,1035.8 1160.5,1035.5 1161.3,1055.2 1162.1,1063.6 1162.9,1079.4 1163.7,1089.5 1164.5,1081.0 1165.3,1091.2 1166.1,1094.1 1166.9,1092.9 1167.7,1098.6 1168.5,1098.8 1169.3,1093.6 1170.1,1093.2 1170.9,1096.4 1171.7,1088.4 1172.5,1094.7 1173.3,1095.6 1174.1,1094.4 1174.9,1086.8 1175.7,1101.9 1176.5,1095.2 1177.3,1082.3 1178.1,1091.6 1178.9,1089.0 1179.7,1086.5 1180.5,1079.4 1181.3,1085.2 1182.1,1077.3 1182.9,1082.2 1183.7,1085.6 1184.5,1084.9 1185.3,1082.4 1186.1,1086.6 1186.9,1083.4 1187.7,1084.9 1188.5,1077.7 1189.3,1079.0 1190.1,1080.8 1190.9,1077.8 1191.7,1086.0 1192.5,1090.8 1193.3,1083.3 1194.1,1085.2 1194.9,1077.1 1195.7,1080.8 1196.5,1077.6 1197.3,1084.5 1198.1,1083.2 1198.9,1079.9 1199.7,1095.2 1200.5,1085.1 1201.3,1088.9 1202.1,1090.2 1202.9,1098.8 1203.7,1093.4 1204.5,1090.1 1205.3,1089.8 1206.1,1086.8 1206.9,1088.7 1207.7,1099.4 1208.5,1092.3 1209.3,1100.0 1210.1,1093.1 1210.9,1094.5 1211.7,1104.3 1212.5,1097.8 1213.3,1092.9 1214.1,1104.9 1214.9,1095.7 1215.7,1097.5 1216.5,1102.5 1217.3,1105.3 1218.1,1100.2 1218.9,1097.4 1219.7,1107.3 1220.5,1099.3 1221.3,1097.9 1222.1,1100.1 1222.9,1102.8 1223.7,1089.5 1224.5,1094.8 1225.3,1100.2 1226.1,1099.5 1226.9,1097.5 1227.7,1096.2 1228.5,1099.9 1229.3,1101.7 1230.1,1096.7 1230.9,1097.4 1231.7,1103.7 1232.5,1098.3 1233.3,1095.5 1234.1,1099.4 1234.9,1096.7 1235.7,1104.0 1236.5,1106.0 1237.3,1098.5 1238.1,1100.1 1238.9,1102.2 1239.7,1104.0 1240.5,1105.9 1241.3,1099.6 1242.1,1099.1 1242.9,1101.6 1243.7,1098.6 1244.5,1097.4 1245.3,1091.5 1246.1,1095.2 1246.9,1095.6 1247.7,1094.1 1248.5,1090.3 1249.3,1087.7 1250.1,1095.9 1250.9,1096.1 1251.7,1094.6 1252.5,1091.5 1253.3,1093.1 1254.1,1094.5 1254.9,1100.4 1255.7,1095.1 1256.5,1091.9 1257.3,1092.6 1258.1,1089.9 1258.9,1106.7 1259.7,1088.1 1260.5,1103.2 1261.3,1093.1 1262.1,1098.0 1262.9,1087.8 1263.7,1093.8 1264.5,1085.1 1265.3,1088.5 1266.1,1089.3 1266.9,1087.7 1267.7,1089.6 1268.5,1092.3 1269.3,1099.4 1270.1,1093.0 1270.9,1090.0 1271.7,1100.6 1272.5,1101.3 1273.3,1088.6 1274.1,1099.4 1274.9,1093.5 1275.7,1092.3 1276.5,1103.6 1277.3,1103.7 1278.1,1104.9 1278.9,1098.7 1279.7,1097.2 1280.5,1098.8 1281.3,1100.1 1282.1,1101.0 1282.9,1102.6 1283.7,1099.4 1284.5,1100.2 1285.3,1100.5 1286.1,1096.2 1286.9,1100.5 1287.7,1104.2 1288.5,1102.0 1289.3,1092.6 1290.1,1104.9 1290.9,1096.9 1291.7,1116.2 1292.5,1115.1 1293.3,1104.7 1294.1,1105.3 1294.9,1096.3 1295.7,1098.3 1296.5,1094.6 1297.3,1100.4 1298.1,1099.8 1298.9,1100.8 1299.7,1101.1 1300.5,1106.3 1301.3,1102.3 1302.1,1101.7 1302.9,1104.3 1303.7,1106.3 1304.5,1106.8 1305.3,1102.6 1306.1,1103.0 1306.9,1105.6 1307.7,1100.4 1308.5,1101.5 1309.3,1104.5 1310.1,1097.7 1310.9,1105.1 1311.7,1101.5 1312.5,1102.9 1313.3,1104.7 1314.1,1111.2 1314.9,1111.2 1315.7,1119.8 1316.5,1104.3 1317.3,1101.9 1318.1,1105.8 1318.9,1094.7 1319.7,1101.0 1320.5,1097.5 1321.3,1098.4 1322.1,1102.1 1322.9,1086.2 1323.7,1092.6 1324.5,1089.3 1325.3,1086.6 1326.1,1083.3 1326.9,1076.8 1327.7,1074.6 1328.5,1071.2 1329.3,1066.0 1330.1,1081.0 1330.9,1074.8 1331.7,1077.3 1332.5,1076.3 1333.3,1075.2 1334.1,1087.3 1334.9,1085.5 1335.7,1098.3 1336.5,1100.7 1337.3,1092.7 1338.1,1103.4 1338.9,1102.8 1339.7,1101.4 1340.5,1097.5 1341.3,1105.8 1342.1,1107.5 1342.9,1108.3 1343.7,1104.0 1344.5,1106.5 1345.3,1106.9 1346.1,1107.1 1346.9,1105.2 1347.7,1111.0 1348.5,1109.5 1349.3,1106.5 1350.1,1109.3 1350.9,1115.0 1351.7,1109.4 1352.5,1109.5 1353.3,1114.3 1354.1,1106.5 1354.9,1111.5 1355.7,1107.3 1356.5,1111.3 1357.3,1118.7 1358.1,1107.1 1358.9,1113.9 1359.7,1112.3 1360.5,1114.5 1361.3,1104.8 1362.1,1096.4 1362.9,1102.6 1363.7,1115.2 1364.5,1108.7 1365.3,1106.1 1366.1,1106.3 1366.9,1107.0 1367.7,1104.2 1368.5,1111.7 1369.3,1103.9 1370.1,1098.6 1370.9,1098.4 1371.7,1102.1 1372.5,1102.4 1373.3,1105.2 1374.1,1105.8 1374.9,1106.3 1375.7,1096.5 1376.5,1104.9 1377.3,1101.6 1378.1,1104.6 1378.9,1100.9 1379.7,1114.2 1380.5,1109.5 1381.3,1107.9 1382.1,1102.1 1382.9,1108.9 1383.7,1108.1 1384.5,1101.3 1385.3,1108.1 1386.1,1112.6 1386.9,1110.1 1387.7,1094.3 1388.5,1108.8 1389.3,1109.8 1390.1,1102.9 1390.9,1110.3 1391.7,1110.6 1392.5,1113.9 1393.3,1101.0 1394.1,1105.8 1394.9,1108.4 1395.7,1101.8 1396.5,1107.1 1397.3,1112.5 1398.1,1101.7 1398.9,1111.6 1399.7,1109.9 1400.5,1100.9 1401.3,1104.2 1402.1,1100.9 1402.9,1107.8 1403.7,1090.2 1404.5,1111.3 1405.3,1100.9 1406.1,1103.2 1406.9,1103.8 1407.7,1110.5 1408.5,1097.5 1409.3,1101.3 1410.1,1107.8 1410.9,1109.0 1411.7,1102.9 1412.5,1100.2 1413.3,1103.3 1414.1,1102.3 1414.9,1101.7 1415.7,1097.9 1416.5,1093.3 1417.3,1101.3 1418.1,1099.9 1418.9,1103.6 1419.7,1107.2 1420.5,1104.5 1421.3,1094.8 1422.1,1100.9 1422.9,1093.9 1423.7,1099.9 1424.5,1101.7 1425.3,1095.7 1426.1,1097.9 1426.9,1106.9 1427.7,1092.1 1428.5,1102.2 1429.3,1095.8 1430.1,1101.9 1430.9,1089.7 1431.7,1094.2 1432.5,1097.9 1433.3,1104.6 1434.1,1098.1 1434.9,1089.2 1435.7,1097.0 1436.5,1101.1 1437.3,1086.4 1438.1,1098.1 1438.9,1096.9 1439.7,1095.8 1440.5,1098.3 1441.3,1093.8 1442.1,1100.2 1442.9,1097.8 1443.7,1101.2 1444.5,1095.8 1445.3,1093.8 1446.1,1085.3 1446.9,1091.4 1447.7,1088.3 1448.5,1097.6 1449.3,1084.0 1450.1,1093.6 1450.9,1095.3 1451.7,1094.0 1452.5,1088.1 1453.3,1099.2 1454.1,1089.9 1454.9,1085.1 1455.7,1088.2 1456.5,1087.7 1457.3,1094.8 1458.1,1089.6 1458.9,1082.6 1459.7,1085.9 1460.5,1088.2 1461.3,1086.4 1462.1,1086.8 1462.9,1093.9 1463.7,1078.7 1464.5,1075.8 1465.3,1079.6 1466.1,1066.5 1466.9,1069.0 1467.7,1065.0 1468.5,1051.6 1469.3,1047.5 1470.1,1041.0 1470.9,1044.6 1471.7,1052.0 1472.5,1060.0 1473.3,1080.3 1474.1,1074.4 1474.9,1086.0 1475.7,1085.7 1476.5,1104.4 1477.3,1099.2 1478.1,1097.7 1478.9,1093.1 1479.7,1096.2 1480.5,1080.7 1481.3,1103.7 1482.1,1099.5 1482.9,1096.2 1483.7,1101.5 1484.5,1096.3 1485.3,1098.0 1486.1,1101.6 1486.9,1104.1 1487.7,1108.2 1488.5,1094.1 1489.3,1102.3 1490.1,1095.9 1490.9,1093.4 1491.7,1097.1 1492.5,1094.1 1493.3,1086.7 1494.1,1089.6 1494.9,1094.0 1495.7,1079.3 1496.5,1070.8 1497.3,1075.2 1498.1,1062.9 1498.9,1048.7 1499.7,1043.5 1500.5,1028.7 1501.3,1018.6 1502.1,1017.0 1502.9,1012.5 1503.7,1023.2 1504.5,1034.9 1505.3,1036.5 1506.1,1047.3 1506.9,1054.4 1507.7,1068.7 1508.5,1073.0 1509.3,1082.5 1510.1,1094.0 1510.9,1086.8 1511.7,1094.8 1512.5,1100.7 1513.3,1101.4 1514.1,1096.6 1514.9,1105.5 1515.7,1095.3 1516.5,1106.2 1517.3,1097.6 1518.1,1108.6 1518.9,1103.0 1519.7,1103.3 1520.5,1103.5 1521.3,1101.7 1522.1,1106.9 1522.9,1106.1 1523.7,1108.6 1524.5,1103.1 1525.3,1108.5 1526.1,1109.6 1526.9,1103.1 1527.7,1115.7 1528.5,1111.6 1529.3,1102.5 1530.1,1103.6 1530.9,1115.5 1531.7,1108.6 1532.5,1107.3 1533.3,1105.0 1534.1,1113.7 1534.9,1107.1 1535.7,1110.1 1536.5,1109.5 1537.3,1112.6 1538.1,1110.8 1538.9,1107.3 1539.7,1109.6 1540.5,1109.7 1541.3,1106.5 1542.1,1104.7 1542.9,1109.4 1543.7,1118.7 1544.5,1106.2 1545.3,1105.3 1546.1,1109.7 1546.9,1105.6 1547.7,1107.7 1548.5,1107.5 1549.3,1105.9 1550.1,1109.1 1550.9,1102.2 1551.7,1105.5 1552.5,1102.2 1553.3,1105.1 1554.1,1108.4 1554.9,1111.4 1555.7,1117.6 1556.5,1106.4 1557.3,1104.9 1558.1,1112.9 1558.9,1100.8 1559.7,1108.5 1560.5,1107.4 1561.3,1110.4 1562.1,1103.1 1562.9,1104.8 1563.7,1098.3 1564.5,1101.9 1565.3,1103.7 1566.1,1101.8 1566.9,1101.2 1567.7,1107.0 1568.5,1098.5 1569.3,1097.8 1570.1,1098.5 1570.9,1101.2 1571.7,1100.8 1572.5,1103.4 1573.3,1102.7 1574.1,1111.5 1574.9,1104.3 1575.7,1105.7 1576.5,1110.1 1577.3,1116.5 1578.1,1109.2 1578.9,1108.4 1579.7,1113.6 1580.5,1109.2 1581.3,1105.6 1582.1,1105.5 1582.9,1108.7 1583.7,1100.3 1584.5,1112.9 1585.3,1110.7 1586.1,1114.4 1586.9,1109.9 1587.7,1106.9 1588.5,1111.7 1589.3,1112.0 1590.1,1107.7 1590.9,1116.2 1591.7,1112.8 1592.5,1114.9 1593.3,1109.6 1594.1,1116.9 1594.9,1128.5 1595.7,1114.5 1596.5,1109.2 1597.3,1116.1 1598.1,1116.7 1598.9,1117.7 1599.7,1111.1 1600.5,1118.5 1601.3,1116.1 1602.1,1113.2 1602.9,1111.1 1603.7,1114.8 1604.5,1117.0 1605.3,1114.9 1606.1,1114.6 1606.9,1113.2 1607.7,1113.6 1608.5,1108.7 1609.3,1116.4 1610.1,1115.0 1610.9,1111.3 1611.7,1112.0 1612.5,1108.1 1613.3,1109.6 1614.1,1113.2 1614.9,1110.4 1615.7,1109.5 1616.5,1110.9 1617.3,1116.4 1618.1,1110.6 1618.9,1114.9 1619.7,1115.5 1620.5,1115.8 1621.3,1117.2 1622.1,1114.7 1622.9,1113.9 1623.7,1117.2 1624.5,1112.3 1625.3,1117.9 1626.1,1111.4 1626.9,1114.1 1627.7,1115.2 1628.5,1109.9 1629.3,1115.7 1630.1,1117.0 1630.9,1108.2 1631.7,1112.7 1632.5,1115.6 1633.3,1115.3 1634.1,1115.6 1634.9,1109.0 1635.7,1112.2 1636.5,1118.8 1637.3,1108.9 1638.1,1105.9 1638.9,1111.8 1639.7,1112.3 1640.5,1105.2 1641.3,1110.3 1642.1,1112.6 1642.9,1113.5 1643.7,1117.6 1644.5,1115.6 1645.3,1114.0 1646.1,1113.4 1646.9,1115.3 1647.7,1119.8 1648.5,1112.6 1649.3,1111.3 1650.1,1110.4 1650.9,1113.3 1651.7,1110.6 1652.5,1108.8 1653.3,1111.5 1654.1,1111.6 1654.9,1115.9 1655.7,1117.5 1656.5,1112.7 1657.3,1112.7 1658.1,1116.5 1658.9,1114.0 1659.7,1113.0 1660.5,1115.9 1661.3,1111.6 1662.1,1115.5 1662.9,1119.1 1663.7,1110.8 1664.5,1117.0 1665.3,1114.3 1666.1,1118.2 1666.9,1117.8 1667.7,1113.8 1668.5,1115.7 1669.3,1114.2 1670.1,1121.8 1670.9,1114.4 1671.7,1116.2 1672.5,1118.6 1673.3,1115.2 1674.1,1113.5 1674.9,1113.2 1675.7,1113.3 1676.5,1115.0 1677.3,1114.5 1678.1,1116.1 1678.9,1114.8 1679.7,1117.6 1680.5,1116.5 1681.3,1118.0 1682.1,1113.1 1682.9,1111.6 1683.7,1117.5 1684.5,1115.3 1685.3,1109.4 1686.1,1112.9 1686.9,1115.3 1687.7,1120.3 1688.5,1119.7 1689.3,1119.8 1690.1,1114.7 1690.9,1112.9 1691.7,1109.8 1692.5,1112.3 1693.3,1111.3 1694.1,1113.8 1694.9,1116.4 1695.7,1115.2 1696.5,1111.8 1697.3,1115.9 1698.1,1120.1 1698.9,1114.4 1699.7,1114.4 1700.5,1115.4 1701.3,1116.7 1702.1,1111.4 1702.9,1114.3 1703.7,1113.7 1704.5,1117.2 1705.3,1118.6 1706.1,1115.1 1706.9,1120.3 1707.7,1118.5 1708.5,1119.5 1709.3,1118.2 1710.1,1115.2 1710.9,1126.3 1711.7,1118.1 1712.5,1113.7 1713.3,1120.4 1714.1,1121.9 1714.9,1111.3 1715.7,1117.8 1716.5,1125.6 1717.3,1119.2 1718.1,1118.3 1718.9,1118.1 1719.7,1118.7 1720.5,1114.4 1721.3,1114.0 1722.1,1114.1 1722.9,1109.1 1723.7,1108.8 1724.5,1099.5 1725.3,1108.4 1726.1,1104.5 1726.9,1106.9 1727.7,1111.2 1728.5,1115.9 1729.3,1114.3 1730.1,1122.3 1730.9,1121.6 1731.7,1116.4 1732.5,1115.3 1733.3,1115.1 1734.1,1116.8 1734.9,1108.6 1735.7,1121.8 1736.5,1114.5 1737.3,1114.7 1738.1,1112.4 1738.9,1112.2 1739.7,1116.9 1740.5,1109.1 1741.3,1114.0 1742.1,1111.7 1742.9,1109.8 1743.7,1117.7 1744.5,1112.1 1745.3,1116.0 1746.1,1113.9 1746.9,1110.2 1747.7,1115.1 1748.5,1112.9 1749.3,1114.9 1750.1,1114.7 1750.9,1118.4 1751.7,1116.4 1752.5,1115.0 1753.3,1114.8 1754.1,1109.3 1754.9,1111.4 1755.7,1116.6 1756.5,1113.4 1757.3,1115.0 1758.1,1119.4 1758.9,1118.2 1759.7,1118.3 1760.5,1116.9 1761.3,1117.6 1762.1,1117.6 1762.9,1117.4 1763.7,1114.2 1764.5,1117.5 1765.3,1119.0 1766.1,1116.7 1766.9,1117.1 1767.7,1111.2 1768.5,1114.3 1769.3,1121.8 1770.1,1111.6 1770.9,1117.3 1771.7,1118.6 1772.5,1117.9 1773.3,1115.9 1774.1,1115.3 1774.9,1112.4 1775.7,1119.0 1776.5,1115.3 1777.3,1117.7 1778.1,1107.8 1778.9,1110.7 1779.7,1110.6 1780.5,1116.8 1781.3,1114.3 1782.1,1114.3 1782.9,1115.5 1783.7,1115.1 1784.5,1115.2 1785.3,1113.4 1786.1,1110.3 1786.9,1115.4 1787.7,1119.9 1788.5,1114.0 1789.3,1115.6 1790.1,1114.8 1790.9,1116.7 1791.7,1113.2 1792.5,1120.2 1793.3,1120.0 1794.1,1116.4 1794.9,1115.9 1795.7,1112.4 1796.5,1118.1 1797.3,1116.8 1798.1,1116.2 1798.9,1112.0 1799.7,1116.9 1800.5,1119.2 1801.3,1112.5 1802.1,1114.3 1802.9,1117.4 1803.7,1116.2 1804.5,1116.3 1805.3,1121.7 1806.1,1118.1 1806.9,1115.6 1807.7,1109.1 1808.5,1115.0 1809.3,1112.6 1810.1,1109.8 1810.9,1118.6 1811.7,1113.5 1812.5,1115.6 1813.3,1119.1 1814.1,1114.5 1814.9,1115.0 1815.7,1113.6 1816.5,1115.2 1817.3,1112.8 1818.1,1117.0 1818.9,1115.1 1819.7,1117.8 1820.5,1118.4 1821.3,1117.0 1822.1,1118.0 1822.9,1116.7 1823.7,1118.9 1824.5,1119.9 1825.3,1119.0 1826.1,1124.7 1826.9,1119.4 1827.7,1118.3 1828.5,1119.4 1829.3,1114.9 1830.1,1117.2 1830.9,1113.7 1831.7,1118.6 1832.5,1119.8 1833.3,1111.2 1834.1,1114.5 1834.9,1113.1 1835.7,1118.0 1836.5,1110.4 1837.3,1112.8 1838.1,1105.7 1838.9,1104.7 1839.7,1099.5 1840.5,1101.0 1841.3,1114.8 1842.1,1116.2 1842.9,1110.5 1843.7,1112.6 1844.5,1118.9 1845.3,1121.7 1846.1,1115.2 1846.9,1115.2 1847.7,1120.3 1848.5,1119.0 1849.3,1119.0 1850.1,1120.1 1850.9,1115.7 1851.7,1116.2 1852.5,1125.4 1853.3,1114.3 1854.1,1119.7 1854.9,1116.8 1855.7,1120.9 1856.5,1117.8 1857.3,1117.8 1858.1,1121.0 1858.9,1118.7 1859.7,1119.0 1860.5,1114.1 1861.3,1120.8 1862.1,1119.5 1862.9,1122.4 1863.7,1119.4 1864.5,1115.4 1865.3,1123.4 1866.1,1120.5 1866.9,1120.0 1867.7,1117.6 1868.5,1127.5 1869.3,1122.6 1870.1,1118.4 1870.9,1122.2 1871.7,1121.7 1872.5,1123.2 1873.3,1120.5 1874.1,1125.1 1874.9,1115.9 1875.7,1116.6 1876.5,1123.7 1877.3,1121.9 1878.1,1120.6 1878.9,1124.8 1879.7,1120.1 1880.5,1115.6 1881.3,1127.0 1882.1,1118.9 1882.9,1117.6 1883.7,1121.9 1884.5,1121.6 1885.3,1116.8 1886.1,1119.3 1886.9,1120.1 1887.7,1116.8 1888.5,1116.8 1889.3,1112.4 1890.1,1115.0 1890.9,1114.2 1891.7,1116.3 1892.5,1120.6 1893.3,1117.6 1894.1,1116.9 1894.9,1115.1 1895.7,1117.1 1896.5,1114.3 1897.3,1116.1 1898.1,1118.4 1898.9,1114.9 1899.7,1115.4 1900.5,1120.6 1901.3,1118.8 1902.1,1116.6 1902.9,1117.4 1903.7,1117.0 1904.5,1121.3 1905.3,1121.1 1906.1,1121.9 1906.9,1116.4 1907.7,1118.0 1908.5,1119.9 1909.3,1115.6 1910.1,1116.7 1910.9,1120.0 1911.7,1116.7 1912.5,1116.1 1913.3,1119.0 1914.1,1117.5 1914.9,1116.9 1915.7,1118.9 1916.5,1114.9 1917.3,1120.4 1918.1,1119.8 1918.9,1119.9 1919.7,1119.8 1920.5,1120.9 1921.3,1111.4 1922.1,1119.5 1922.9,1125.8 1923.7,1117.7 1924.5,1117.2 1925.3,1117.4 1926.1,1115.6 1926.9,1130.0 1927.7,1117.7 1928.5,1121.1 1929.3,1115.7 1930.1,1116.1 1930.9,1115.3 1931.7,1113.8 1932.5,1114.0 1933.3,1119.1 1934.1,1114.9 1934.9,1118.4 1935.7,1120.3 1936.5,1117.1 1937.3,1118.6 1938.1,1119.0 1938.9,1115.1 1939.7,1115.5 1940.5,1113.0 1941.3,1115.1 1942.1,1119.9 1942.9,1118.3 1943.7,1117.7 1944.5,1117.5 1945.3,1117.0 1946.1,1118.2 1946.9,1124.3 1947.7,1122.4 1948.5,1120.5 1949.3,1119.6 1950.1,1118.7 1950.9,1125.5 1951.7,1119.2 1952.5,1119.4 1953.3,1119.4 1954.1,1122.7 1954.9,1120.0 1955.7,1122.9 1956.5,1117.7 1957.3,1117.4 1958.1,1116.3 1958.9,1119.0 1959.7,1116.1 1960.5,1117.4 1961.3,1125.4 1962.1,1119.7 1962.9,1118.0 1963.7,1118.3 1964.5,1111.9 1965.3,1114.2 1966.1,1120.4 1966.9,1114.7 1967.7,1117.5 1968.5,1121.3 1969.3,1116.9 1970.1,1120.2 1970.9,1119.1 1971.7,1120.7 1972.5,1120.3 1973.3,1124.1 1974.1,1122.0 1974.9,1127.8 1975.7,1118.8 1976.5,1120.0 1977.3,1120.4 1978.1,1127.4 1978.9,1121.0 1979.7,1118.4 1980.5,1115.7 1981.3,1118.1 1982.1,1115.4 1982.9,1115.4 1983.7,1114.9 1984.5,1116.4 1985.3,1115.9 1986.1,1119.7 1986.9,1117.1 1987.7,1115.1 1988.5,1117.3 1989.3,1110.4 1990.1,1117.8 1990.9,1118.2 1991.7,1118.2 1992.5,1114.4 1993.3,1118.5 1994.1,1118.1 1994.9,1120.0 1995.7,1117.3 1996.5,1116.3 1997.3,1115.3 1998.1,1113.1 1998.9,1113.7 1999.7,1114.2 2000.5,1117.7 2001.3,1115.2 2002.1,1115.7 2002.9,1114.1 2003.7,1117.9 2004.5,1120.0 2005.3,1117.6 2006.1,1113.9 2006.9,1116.0 2007.7,1120.9 2008.5,1117.5 2009.3,1117.2 2010.1,1115.9 2010.9,1114.2 2011.7,1109.8 2012.5,1116.9 2013.3,1117.9 2014.1,1116.4 2014.9,1118.1 2015.7,1119.8 2016.5,1120.0 2017.3,1121.5 2018.1,1116.4 2018.9,1120.0 2019.7,1120.9 2020.5,1120.1 2021.3,1117.2 2022.1,1113.1 2022.9,1123.0 2023.7,1118.2 2024.5,1119.8 2025.3,1117.7 2026.1,1117.2 2026.9,1119.4 2027.7,1122.3 2028.5,1118.1 2029.3,1117.5 2030.1,1119.7 2030.9,1117.1 2031.7,1117.3 2032.5,1116.7"/>
<polyline stroke="#00f" stroke-width="4.2" points="148.5,879.9 149.3,876.5 150.1,884.9 150.9,880.3 151.7,873.8 152.5,884.7 153.3,879.1 154.1,882.1 154.9,895.4 155.7,880.6 156.5,873.0 157.3,874.1 158.1,885.8 158.9,870.2 159.7,877.4 160.5,878.0 161.3,871.8 162.1,877.7 162.9,879.7 163.7,874.4 164.5,875.9 165.3,880.4 166.1,872.6 166.9,870.2 167.7,886.5 168.5,878.1 169.3,871.6 170.1,877.5 170.9,885.5 171.7,870.9 172.5,884.6 173.3,880.7 174.1,877.1 174.9,880.8 175.7,875.8 176.5,885.7 177.3,887.0 178.1,872.6 178.9,880.1 179.7,882.8 180.5,879.5 181.3,884.1 182.1,878.7 182.9,885.8 183.7,882.4 184.5,883.4 185.3,888.1 186.1,892.3 186.9,875.6 187.7,887.7 188.5,888.1 189.3,883.5 190.1,890.9 190.9,881.4 191.7,882.3 192.5,887.8 193.3,881.7 194.1,890.2 194.9,886.3 195.7,891.8 196.5,875.8 197.3,877.1 198.1,891.3 198.9,882.1 199.7,891.4 200.5,884.3 201.3,889.3 202.1,893.5 202.9,889.0 203.7,885.1 204.5,888.2 205.3,895.1 206.1,892.5 206.9,894.1 207.7,892.3 208.5,893.2 209.3,891.8 210.1,889.0 210.9,895.9 211.7,895.0 212.5,887.0 213.3,895.5 214.1,899.9 214.9,912.7 215.7,891.3 216.5,897.2 217.3,898.9 218.1,903.0 218.9,893.7 219.7,898.4 220.5,892.8 221.3,895.9 222.1,894.2 222.9,897.7 223.7,895.3 224.5,899.7 225.3,896.9 226.1,901.6 226.9,912.4 227.7,898.0 228.5,895.9 229.3,896.9 230.1,896.6 230.9,892.0 231.7,898.2 232.5,895.8 233.3,900.8 234.1,896.3 234.9,900.0 235.7,902.5 236.5,894.0 237.3,894.6 238.1,893.9 238.9,894.3 239.7,899.5 240.5,894.5 241.3,895.1 242.1,893.8 242.9,908.6 243.7,895.7 244.5,896.5 245.3,889.8 246.1,897.6 246.9,893.4 247.7,893.5 248.5,878.8 249.3,888.9 250.1,895.7 250.9,900.8 251.7,888.0 252.5,895.0 253.3,895.0 254.1,919.4 254.9,886.4 255.7,892.4 256.5,891.2 257.3,899.0 258.1,900.2 258.9,894.2 259.7,902.8 260.5,905.4 261.3,893.5 262.1,902.0 262.9,895.9 263.7,892.2 264.5,895.6 265.3,895.3 266.1,886.5 266.9,896.6 267.7,903.2 268.5,892.7 269.3,894.0 270.1,888.1 270.9,896.7 271.7,894.3 272.5,897.8 273.3,892.3 274.1,880.9 274.9,894.7 275.7,891.0 276.5,896.5 277.3,894.8 278.1,882.0 278.9,885.1 279.7,893.6 280.5,891.3 281.3,886.5 282.1,891.8 282.9,902.3 283.7,900.7 284.5,895.7 285.3,901.0 286.1,904.5 286.9,900.4 287.7,908.4 288.5,899.1 289.3,910.2 290.1,908.1 290.9,904.2 291.7,903.9 292.5,902.0 293.3,894.0 294.1,905.2 294.9,906.0 295.7,903.7 296.5,901.3 297.3,900.2 298.1,891.6 298.9,896.3 299.7,892.8 300.5,899.9 301.3,894.1 302.1,900.5 302.9,891.4 303.7,902.1 304.5,902.4 305.3,908.6 306.1,900.2 306.9,894.3 307.7,894.1 308.5,892.3 309.3,896.4 310.1,901.6 310.9,890.9 311.7,915.2 312.5,893.2 313.3,891.1 314.1,897.3 314.9,900.5 315.7,893.8 316.5,893.2 317.3,904.6 318.1,893.9 318.9,902.6 319.7,899.8 320.5,898.3 321.3,900.3 322.1,896.2 322.9,891.5 323.7,903.4 324.5,896.9 325.3,898.0 326.1,906.6 326.9,907.9 327.7,909.9 328.5,904.2 329.3,899.5 330.1,901.1 330.9,897.3 331.7,888.9 332.5,900.3 333.3,901.0 334.1,902.7 334.9,893.7 335.7,902.3 336.5,895.2 337.3,892.0 338.1,895.3 338.9,899.5 339.7,895.5 340.5,897.1 341.3,891.8 342.1,897.0 342.9,903.2 343.7,891.6 344.5,896.7 345.3,889.7 346.1,896.7 346.9,882.3 347.7,896.0 348.5,894.1 349.3,889.5 350.1,896.6 350.9,889.7 351.7,893.8 352.5,890.0 353.3,898.1 354.1,891.8 354.9,899.8 355.7,896.4 356.5,899.3 357.3,884.2 358.1,887.4 358.9,892.6 359.7,902.9 360.5,892.2 361.3,906.0 362.1,900.8 362.9,893.5 363.7,894.0 364.5,906.5 365.3,894.7 366.1,894.2 366.9,893.8 367.7,897.0 368.5,896.5 369.3,902.4 370.1,899.2 370.9,903.7 371.7,899.5 372.5,910.5 373.3,900.5 374.1,901.5 374.9,899.4 375.7,888.8 376.5,895.5 377.3,903.3 378.1,898.2 378.9,904.8 379.7,894.7 380.5,886.6 381.3,901.1 382.1,900.9 382.9,894.7 383.7,907.8 384.5,904.1 385.3,901.6 386.1,888.0 386.9,903.5 387.7,896.4 388.5,898.0 389.3,902.8 390.1,896.1 390.9,904.8 391.7,896.5 392.5,903.2 393.3,905.7 394.1,906.4 394.9,901.7 395.7,903.5 396.5,898.9 397.3,899.9 398.1,898.9 398.9,904.6 399.7,899.4 400.5,914.8 401.3,901.6 402.1,897.9 402.9,899.9 403.7,907.0 404.5,900.4 405.3,904.4 406.1,895.6 406.9,903.2 407.7,907.6 408.5,902.7 409.3,903.3 410.1,896.0 410.9,886.0 411.7,893.9 412.5,901.8 413.3,901.7 414.1,904.5 414.9,895.1 415.7,903.8 416.5,884.1 417.3,897.8 418.1,891.8 418.9,894.0 419.7,898.0 420.5,898.8 421.3,894.7 422.1,894.1 422.9,901.0 423.7,900.1 424.5,891.5 425.3,898.5 426.1,897.4 426.9,902.9 427.7,904.3 428.5,905.1 429.3,903.3 430.1,900.8 430.9,913.0 431.7,905.5 432.5,895.2 433.3,901.6 434.1,905.0 434.9,900.7 435.7,899.5 436.5,897.7 437.3,903.2 438.1,897.4 438.9,901.9 439.7,905.3 440.5,907.8 441.3,903.0 442.1,897.7 442.9,903.5 443.7,899.0 444.5,902.4 445.3,894.7 446.1,904.2 446.9,895.2 447.7,900.5 448.5,909.1 449.3,900.1 450.1,898.4 450.9,899.7 451.7,904.8 452.5,910.3 453.3,906.6 454.1,898.0 454.9,898.8 455.7,902.8 456.5,902.9 457.3,893.9 458.1,896.2 458.9,901.3 459.7,907.5 460.5,897.5 461.3,891.6 462.1,902.2 462.9,894.9 463.7,895.6 464.5,883.4 465.3,887.7 466.1,887.7 466.9,888.9 467.7,877.9 468.5,869.7 469.3,862.2 470.1,859.4 470.9,851.7 471.7,837.7 472.5,810.0 473.3,796.9 474.1,780.5 474.9,769.6 475.7,761.0 476.5,764.6 477.3,768.9 478.1,796.8 478.9,809.8 479.7,828.6 480.5,837.9 481.3,850.6 482.1,860.2 482.9,867.0 483.7,870.4 484.5,881.5 485.3,885.8 486.1,879.7 486.9,883.3 487.7,885.3 488.5,889.0 489.3,897.5 490.1,892.4 490.9,909.4 491.7,889.9 492.5,886.5 493.3,889.8 494.1,893.6 494.9,898.7 495.7,904.5 496.5,894.9 497.3,900.6 498.1,902.9 498.9,906.9 499.7,898.0 500.5,900.6 501.3,901.5 502.1,896.7 502.9,897.7 503.7,892.2 504.5,891.3 505.3,892.2 506.1,899.0 506.9,899.7 507.7,895.5 508.5,884.7 509.3,899.8 510.1,895.3 510.9,901.5 511.7,896.9 512.5,891.8 513.3,895.5 514.1,894.3 514.9,903.4 515.7,888.4 516.5,895.1 517.3,896.3 518.1,889.6 518.9,899.5 519.7,900.4 520.5,901.6 521.3,902.1 522.1,898.9 522.9,907.7 523.7,898.4 524.5,900.7 525.3,902.9 526.1,901.5 526.9,903.4 527.7,898.9 528.5,901.0 529.3,896.7 530.1,901.6 530.9,902.4 531.7,897.9 532.5,906.2 533.3,907.7 534.1,901.5 534.9,898.8 535.7,894.7 536.5,894.9 537.3,892.8 538.1,894.3 538.9,888.4 539.7,891.4 540.5,882.4 541.3,871.2 542.1,858.5 542.9,847.5 543.7,833.0 544.5,820.1 545.3,809.0 546.1,775.8 546.9,771.5 547.7,765.0 548.5,782.7 549.3,805.7 550.1,829.4 550.9,835.9 551.7,851.0 552.5,873.1 553.3,866.6 554.1,870.8 554.9,879.8 555.7,889.6 556.5,882.4 557.3,892.3 558.1,892.8 558.9,888.3 559.7,882.3 560.5,881.5 561.3,877.4 562.1,888.2 562.9,888.2 563.7,882.0 564.5,881.9 565.3,880.6 566.1,893.9 566.9,877.0 567.7,875.9 568.5,886.0 569.3,874.8 570.1,880.3 570.9,864.8 571.7,862.6 572.5,855.3 573.3,846.0 574.1,857.4 574.9,856.7 575.7,876.6 576.5,873.6 577.3,866.3 578.1,878.9 578.9,874.9 579.7,871.3 580.5,867.2 581.3,876.1 582.1,860.0 582.9,855.2 583.7,854.0 584.5,853.0 585.3,842.6 586.1,830.7 586.9,824.3 587.7,810.8 588.5,805.1 589.3,821.1 590.1,766.4 590.9,749.7 591.7,729.6 592.5,687.6 593.3,639.9 594.1,602.6 594.9,532.0 595.7,437.4 596.5,317.7 597.3,209.4 598.1,135.3 598.9,101.0 599.7,161.1 600.5,265.2 601.3,370.0 602.1,465.4 602.9,543.3 603.7,602.3 604.5,652.7 605.3,702.7 606.1,732.2 606.9,756.0 607.7,755.7 608.5,803.4 609.3,809.7 610.1,810.8 610.9,796.3 611.7,768.6 612.5,775.6 613.3,782.3 614.1,795.0 614.9,771.6 615.7,767.3 616.5,773.3 617.3,768.8 618.1,765.3 618.9,751.5 619.7,762.9 620.5,748.9 621.3,739.2 622.1,746.6 622.9,732.7 623.7,732.3 624.5,734.5 625.3,729.2 626.1,732.2 626.9,731.4 627.7,735.1 628.5,734.7 629.3,750.9 630.1,731.0 630.9,745.7 631.7,746.9 632.5,752.8 633.3,751.7 634.1,794.3 634.9,766.6 635.7,781.3 636.5,779.2 637.3,778.9 638.1,789.3 638.9,793.1 639.7,792.8 640.5,803.7 641.3,826.3 642.1,809.7 642.9,824.2 643.7,821.4 644.5,805.4 645.3,842.4 646.1,806.4 646.9,835.1 647.7,828.8 648.5,833.8 649.3,845.5 650.1,842.0 650.9,830.5 651.7,832.3 652.5,838.3 653.3,852.4 654.1,850.7 654.9,860.7 655.7,857.4 656.5,860.6 657.3,851.1 658.1,849.1 658.9,857.0 659.7,866.2 660.5,858.9 661.3,854.1 662.1,864.6 662.9,872.3 663.7,872.7 664.5,870.8 665.3,869.0 666.1,865.8 666.9,876.9 667.7,896.4 668.5,876.4 669.3,895.2 670.1,867.8 670.9,876.5 671.7,879.2 672.5,881.8 673.3,874.1 674.1,888.1 674.9,881.4 675.7,873.3 676.5,888.6 677.3,883.4 678.1,876.5 678.9,880.0 679.7,884.8 680.5,883.7 681.3,881.6 682.1,876.7 682.9,880.7 683.7,884.9 684.5,888.9 685.3,882.2 686.1,883.4 686.9,884.6 687.7,879.8 688.5,865.3 689.3,879.9 690.1,882.3 690.9,884.8 691.7,884.4 692.5,881.5 693.3,882.6 694.1,884.0 694.9,881.0 695.7,881.0 696.5,876.6 697.3,878.5 698.1,883.3 698.9,879.4 699.7,880.6 700.5,881.8 701.3,876.6 702.1,873.3 702.9,877.9 703.7,884.2 704.5,878.2 705.3,884.0 706.1,876.0 706.9,893.2 707.7,888.9 708.5,884.0 709.3,888.0 710.1,897.0 710.9,888.6 711.7,883.5 712.5,890.0 713.3,888.3 714.1,892.7 714.9,891.3 715.7,883.9 716.5,891.9 717.3,895.1 718.1,896.9 718.9,892.5 719.7,899.0 720.5,897.2 721.3,894.4 722.1,897.6 722.9,880.6 723.7,896.4 724.5,897.2 725.3,890.7 726.1,894.5 726.9,888.4 727.7,890.5 728.5,890.5 729.3,887.1 730.1,890.7 730.9,884.6 731.7,891.6 732.5,899.5 733.3,900.7 734.1,893.3 734.9,900.9 735.7,895.9 736.5,889.5 737.3,892.5 738.1,895.2 738.9,895.8 739.7,898.9 740.5,893.9 741.3,895.6 742.1,901.9 742.9,898.9 743.7,900.6 744.5,899.3 745.3,903.0 746.1,903.8 746.9,898.2 747.7,911.3 748.5,899.6 749.3,903.8 750.1,901.4 750.9,905.2 751.7,903.7 752.5,904.7 753.3,902.9 754.1,901.7 754.9,902.7 755.7,901.8 756.5,898.5 757.3,895.8 758.1,904.1 758.9,907.3 759.7,898.8 760.5,905.0 761.3,901.0 762.1,904.5 762.9,907.6 763.7,905.9 764.5,903.8 765.3,897.4 766.1,903.2 766.9,904.7 767.7,909.6 768.5,902.1 769.3,904.2 770.1,905.2 770.9,909.1 771.7,899.6 772.5,907.4 773.3,903.9 774.1,901.8 774.9,899.4 775.7,901.3 776.5,908.6 777.3,904.0 778.1,902.9 778.9,905.5 779.7,912.6 780.5,911.8 781.3,911.6 782.1,912.5 782.9,911.9 783.7,907.6 784.5,905.0 785.3,914.0 786.1,908.8 786.9,909.7 787.7,907.5 788.5,911.2 789.3,914.4 790.1,907.8 790.9,910.1 791.7,910.1 792.5,912.3 793.3,910.0 794.1,910.6 794.9,908.2 795.7,910.9 796.5,908.3 797.3,914.2 798.1,911.2 798.9,925.3 799.7,906.9 800.5,908.7 801.3,916.3 802.1,915.5 802.9,908.0 803.7,934.2 804.5,912.7 805.3,917.6 806.1,911.9 806.9,916.0 807.7,917.6 808.5,911.5 809.3,914.8 810.1,916.9 810.9,921.5 811.7,917.6 812.5,925.4 813.3,916.4 814.1,917.0 814.9,916.6 815.7,913.8 816.5,907.7 817.3,901.3 818.1,917.6 818.9,916.5 819.7,914.8 820.5,912.3 821.3,912.6 822.1,909.6 822.9,918.9 823.7,908.0 824.5,920.5 825.3,910.7 826.1,934.5 826.9,915.9 827.7,912.7 828.5,914.3 829.3,911.9 830.1,919.5 830.9,913.6 831.7,914.6 832.5,910.5 833.3,916.3 834.1,908.7 834.9,912.1 835.7,919.8 836.5,907.6 837.3,916.9 838.1,920.6 838.9,916.8 839.7,922.1 840.5,921.4 841.3,918.4 842.1,910.3 842.9,914.3 843.7,912.9 844.5,919.0 845.3,914.3 846.1,911.4 846.9,908.4 847.7,910.7 848.5,912.8 849.3,902.0 850.1,910.4 850.9,911.5 851.7,906.9 852.5,908.6 853.3,906.7 854.1,912.0 854.9,903.5 855.7,912.9 856.5,909.6 857.3,901.0 858.1,907.0 858.9,909.1 859.7,911.1 860.5,908.2 861.3,907.1 862.1,913.5 862.9,913.5 863.7,900.7 864.5,902.0 865.3,914.2 866.1,909.2 866.9,904.8 867.7,915.5 868.5,917.0 869.3,909.2 870.1,913.4 870.9,911.2 871.7,912.9 872.5,919.4 873.3,911.2 874.1,912.2 874.9,911.4 875.7,906.1 876.5,915.8 877.3,915.6 878.1,912.8 878.9,912.1 879.7,917.6 880.5,908.7 881.3,907.2 882.1,912.8 882.9,911.5 883.7,917.5 884.5,898.8 885.3,910.4 886.1,905.7 886.9,918.2 887.7,908.2 888.5,912.3 889.3,900.5 890.1,904.7 890.9,910.6 891.7,905.4 892.5,903.8 893.3,907.9 894.1,904.9 894.9,904.0 895.7,903.9 896.5,898.9 897.3,911.5 898.1,905.3 898.9,894.0 899.7,889.7 900.5,878.7 901.3,869.4 902.1,885.0 902.9,855.6 903.7,842.1 904.5,838.9 905.3,815.0 906.1,786.2 906.9,767.0 907.7,754.0 908.5,759.1 909.3,773.8 910.1,799.9 910.9,826.0 911.7,832.1 912.5,858.8 913.3,867.8 914.1,883.5 914.9,885.4 915.7,888.2 916.5,889.5 917.3,902.7 918.1,903.7 918.9,893.8 919.7,896.9 920.5,899.8 921.3,901.7 922.1,900.4 922.9,896.1 923.7,906.9 924.5,897.7 925.3,899.4 926.1,901.1 926.9,905.1 927.7,904.3 928.5,896.3 929.3,899.2 930.1,898.9 930.9,898.3 931.7,904.9 932.5,901.5 933.3,911.4 934.1,906.7 934.9,908.6 935.7,908.6 936.5,897.6 937.3,904.4 938.1,896.4 938.9,898.1 939.7,902.7 940.5,901.6 941.3,906.4 942.1,899.6 942.9,904.6 943.7,903.0 944.5,900.6 945.3,895.7 946.1,895.8 946.9,902.1 947.7,909.1 948.5,895.0 949.3,897.3 950.1,892.6 950.9,885.6 951.7,897.8 952.5,896.6 953.3,897.3 954.1,888.6 954.9,890.0 955.7,899.4 956.5,888.7 957.3,895.1 958.1,895.6 958.9,890.9 959.7,887.8 960.5,890.4 961.3,880.9 962.1,886.4 962.9,884.9 963.7,872.5 964.5,883.0 965.3,886.9 966.1,892.0 966.9,875.9 967.7,881.7 968.5,883.5 969.3,878.1 970.1,877.1 970.9,882.1 971.7,883.6 972.5,867.8 973.3,895.6 974.1,880.9 974.9,883.2 975.7,880.9 976.5,889.6 977.3,879.4 978.1,884.1 978.9,887.7 979.7,884.1 980.5,887.9 981.3,892.1 982.1,901.5 982.9,890.9 983.7,890.6 984.5,895.5 985.3,895.5 986.1,891.0 986.9,899.9 987.7,896.0 988.5,894.3 989.3,907.3 990.1,901.7 990.9,893.2 991.7,903.1 992.5,897.7 993.3,898.4 994.1,892.3 994.9,904.3 995.7,900.4 996.5,903.5 997.3,890.2 998.1,900.0 998.9,895.3 999.7,897.0 1000.5,901.6 1001.3,903.1 1002.1,898.4 1002.9,909.4 1003.7,899.3 1004.5,916.0 1005.3,906.3 1006.1,911.4 1006.9,903.6 1007.7,908.4 1008.5,910.5 1009.3,917.0 1010.1,912.2 1010.9,916.1 1011.7,911.0 1012.5,915.5 1013.3,910.4 1014.1,911.0 1014.9,914.5 1015.7,906.3 1016.5,905.1 1017.3,912.0 1018.1,919.4 1018.9,917.0 1019.7,911.6 1020.5,913.5 1021.3,911.9 1022.1,912.6 1022.9,923.4 1023.7,907.3 1024.5,907.5 1025.3,905.2 1026.1,909.7 1026.9,917.5 1027.7,914.3 1028.5,909.7 1029.3,912.6 1030.1,913.5 1030.9,924.2 1031.7,917.2 1032.5,919.0 1033.3,925.2 1034.1,916.2 1034.9,917.7 1035.7,909.8 1036.5,908.4 1037.3,909.7 1038.1,918.0 1038.9,905.3 1039.7,911.2 1040.5,910.6 1041.3,904.8 1042.1,903.7 1042.9,916.2 1043.7,908.3 1044.5,907.9 1045.3,911.2 1046.1,910.9 1046.9,905.6 1047.7,898.3 1048.5,911.3 1049.3,909.5 1050.1,912.5 1050.9,908.4 1051.7,922.6 1052.5,916.9 1053.3,920.2 1054.1,910.6 1054.9,912.0 1055.7,910.2 1056.5,912.1 1057.3,913.3 1058.1,909.7 1058.9,907.6 1059.7,906.8 1060.5,911.1 1061.3,915.3 1062.1,906.7 1062.9,910.0 1063.7,914.9 1064.5,918.9 1065.3,912.7 1066.1,915.8 1066.9,914.3 1067.7,914.3 1068.5,916.0 1069.3,911.4 1070.1,913.8 1070.9,914.5 1071.7,921.5 1072.5,915.5 1073.3,921.7 1074.1,914.9 1074.9,916.4 1075.7,911.9 1076.5,915.5 1077.3,925.6 1078.1,920.3 1078.9,909.9 1079.7,923.0 1080.5,914.7 1081.3,915.3 1082.1,916.9 1082.9,913.2 1083.7,909.7 1084.5,913.0 1085.3,911.2 1086.1,919.6 1086.9,912.2 1087.7,903.3 1088.5,921.9 1089.3,913.1 1090.1,910.3 1090.9,903.0 1091.7,935.7 1092.5,908.2 1093.3,908.0 1094.1,907.1 1094.9,910.0 1095.7,908.9 1096.5,911.1 1097.3,912.1 1098.1,910.9 1098.9,915.5 1099.7,908.0 1100.5,915.9 1101.3,914.3 1102.1,913.4 1102.9,916.4 1103.7,914.9 1104.5,914.9 1105.3,912.5 1106.1,911.1 1106.9,908.6 1107.7,909.5 1108.5,911.8 1109.3,917.2 1110.1,913.4 1110.9,915.0 1111.7,910.7 1112.5,909.2 1113.3,915.6 1114.1,924.4 1114.9,911.8 1115.7,921.2 1116.5,907.0 1117.3,906.8 1118.1,913.2 1118.9,913.5 1119.7,919.7 1120.5,917.7 1121.3,916.8 1122.1,914.4 1122.9,919.7 1123.7,923.0 1124.5,917.2 1125.3,914.6 1126.1,912.0 1126.9,912.8 1127.7,910.8 1128.5,925.6 1129.3,912.1 1130.1,918.9 1130.9,909.6 1131.7,920.6 1132.5,915.7 1133.3,919.3 1134.1,914.3 1134.9,908.9 1135.7,923.0 1136.5,907.4 1137.3,921.7 1138.1,912.3 1138.9,909.1 1139.7,916.5 1140.5,919.1 1141.3,917.6 1142.1,908.5 1142.9,910.6 1143.7,917.6 1144.5,914.1 1145.3,919.5 1146.1,909.2 1146.9,903.0 1147.7,903.7 1148.5,908.2 1149.3,896.6 1150.1,898.8 1150.9,907.5 1151.7,906.9 1152.5,897.0 1153.3,895.6 1154.1,895.0 1154.9,896.3 1155.7,886.3 1156.5,878.1 1157.3,865.4 1158.1,838.2 1158.9,823.2 1159.7,813.0 1160.5,823.5 1161.3,849.8 1162.1,869.0 1162.9,878.5 1163.7,881.0 1164.5,890.7 1165.3,895.7 1166.1,899.4 1166.9,881.0 1167.7,891.5 1168.5,878.0 1169.3,897.9 1170.1,881.8 1170.9,885.3 1171.7,892.6 1172.5,876.2 1173.3,882.9 1174.1,872.9 1174.9,883.0 1175.7,875.3 1176.5,872.6 1177.3,869.3 1178.1,874.7 1178.9,871.4 1179.7,872.8 1180.5,872.1 1181.3,860.5 1182.1,867.1 1182.9,871.7 1183.7,867.3 1184.5,866.2 1185.3,864.1 1186.1,860.7 1186.9,863.2 1187.7,862.6 1188.5,875.4 1189.3,862.0 1190.1,858.6 1190.9,867.5 1191.7,863.5 1192.5,862.8 1193.3,871.0 1194.1,867.6 1194.9,866.0 1195.7,874.1 1196.5,882.6 1197.3,881.9 1198.1,879.4 1198.9,882.1 1199.7,883.0 1200.5,888.8 1201.3,887.1 1202.1,890.5 1202.9,888.9 1203.7,891.1 1204.5,882.0 1205.3,891.2 1206.1,889.3 1206.9,890.7 1207.7,894.3 1208.5,887.7 1209.3,890.0 1210.1,895.1 1210.9,895.3 1211.7,899.7 1212.5,898.0 1213.3,890.4 1214.1,899.7 1214.9,897.9 1215.7,900.3 1216.5,908.5 1217.3,900.6 1218.1,899.7 1218.9,894.3 1219.7,897.5 1220.5,905.2 1221.3,904.1 1222.1,897.0 1222.9,896.5 1223.7,898.8 1224.5,904.1 1225.3,895.7 1226.1,907.8 1226.9,910.8 1227.7,892.1 1228.5,910.1 1229.3,909.5 1230.1,892.9 1230.9,894.2 1231.7,899.9 1232.5,900.3 1233.3,896.5 1234.1,899.6 1234.9,906.3 1235.7,896.1 1236.5,880.1 1237.3,898.6 1238.1,906.8 1238.9,906.6 1239.7,905.4 1240.5,889.8 1241.3,896.3 1242.1,900.8 1242.9,893.5 1243.7,903.4 1244.5,904.8 1245.3,904.6 1246.1,906.6 1246.9,895.3 1247.7,907.1 1248.5,893.3 1249.3,894.0 1250.1,893.1 1250.9,893.1 1251.7,898.7 1252.5,902.2 1253.3,888.1 1254.1,896.8 1254.9,898.3 1255.7,893.8 1256.5,874.1 1257.3,896.2 1258.1,895.9 1258.9,884.5 1259.7,890.4 1260.5,897.6 1261.3,896.9 1262.1,898.9 1262.9,900.0 1263.7,889.1 1264.5,889.4 1265.3,903.4 1266.1,892.8 1266.9,897.6 1267.7,895.5 1268.5,888.2 1269.3,894.9 1270.1,893.8 1270.9,885.0 1271.7,884.0 1272.5,882.1 1273.3,884.4 1274.1,890.6 1274.9,886.1 1275.7,880.1 1276.5,874.6 1277.3,881.5 1278.1,880.0 1278.9,878.7 1279.7,878.1 1280.5,897.0 1281.3,890.0 1282.1,877.9 1282.9,893.5 1283.7,889.0 1284.5,894.8 1285.3,879.8 1286.1,893.4 1286.9,887.9 1287.7,890.6 1288.5,894.1 1289.3,898.2 1290.1,896.1 1290.9,890.3 1291.7,901.7 1292.5,899.3 1293.3,899.4 1294.1,885.4 1294.9,900.5 1295.7,908.0 1296.5,909.2 1297.3,906.8 1298.1,901.8 1298.9,912.0 1299.7,903.0 1300.5,912.8 1301.3,904.8 1302.1,900.9 1302.9,908.9 1303.7,908.1 1304.5,907.9 1305.3,903.6 1306.1,903.1 1306.9,912.0 1307.7,907.3 1308.5,914.0 1309.3,914.0 1310.1,903.3 1310.9,906.2 1311.7,896.1 1312.5,907.4 1313.3,905.1 1314.1,908.7 1314.9,906.1 1315.7,905.1 1316.5,899.2 1317.3,903.5 1318.1,911.1 1318.9,910.3 1319.7,913.7 1320.5,910.0 1321.3,901.0 1322.1,898.6 1322.9,904.6 1323.7,875.0 1324.5,886.5 1325.3,872.9 1326.1,850.4 1326.9,850.2 1327.7,839.0 1328.5,845.9 1329.3,852.6 1330.1,876.5 1330.9,888.4 1331.7,901.2 1332.5,900.7 1333.3,915.9 1334.1,906.0 1334.9,911.1 1335.7,909.5 1336.5,916.9 1337.3,910.5 1338.1,921.2 1338.9,920.2 1339.7,919.8 1340.5,910.5 1341.3,917.6 1342.1,917.6 1342.9,920.7 1343.7,912.8 1344.5,920.9 1345.3,920.8 1346.1,916.6 1346.9,918.2 1347.7,914.5 1348.5,919.5 1349.3,910.4 1350.1,911.7 1350.9,923.7 1351.7,912.0 1352.5,912.4 1353.3,908.5 1354.1,910.7 1354.9,912.5 1355.7,906.7 1356.5,905.5 1357.3,909.4 1358.1,917.2 1358.9,909.7 1359.7,931.9 1360.5,915.4 1361.3,913.1 1362.1,908.7 1362.9,912.4 1363.7,921.9 1364.5,905.1 1365.3,911.9 1366.1,917.1 1366.9,918.7 1367.7,911.5 1368.5,909.6 1369.3,915.4 1370.1,905.2 1370.9,919.4 1371.7,909.4 1372.5,905.0 1373.3,910.1 1374.1,912.2 1374.9,909.4 1375.7,906.1 1376.5,905.6 1377.3,917.8 1378.1,913.0 1378.9,915.7 1379.7,911.5 1380.5,906.4 1381.3,907.6 1382.1,910.7 1382.9,911.3 1383.7,911.9 1384.5,912.0 1385.3,916.8 1386.1,914.6 1386.9,905.3 1387.7,917.2 1388.5,915.7 1389.3,910.3 1390.1,914.4 1390.9,912.9 1391.7,914.6 1392.5,906.4 1393.3,906.2 1394.1,916.7 1394.9,911.8 1395.7,918.4 1396.5,918.8 1397.3,914.0 1398.1,928.3 1398.9,904.9 1399.7,913.5 1400.5,907.8 1401.3,913.7 1402.1,917.7 1402.9,914.2 1403.7,914.9 1404.5,910.0 1405.3,915.0 1406.1,907.7 1406.9,914.4 1407.7,911.0 1408.5,921.4 1409.3,915.6 1410.1,914.4 1410.9,915.6 1411.7,917.1 1412.5,911.8 1413.3,908.7 1414.1,906.5 1414.9,918.1 1415.7,913.1 1416.5,907.5 1417.3,908.1 1418.1,917.5 1418.9,911.1 1419.7,920.6 1420.5,920.3 1421.3,913.6 1422.1,913.8 1422.9,911.5 1423.7,918.4 1424.5,909.6 1425.3,916.7 1426.1,910.5 1426.9,917.8 1427.7,904.4 1428.5,890.0 1429.3,894.0 1430.1,887.0 1430.9,904.0 1431.7,900.3 1432.5,903.3 1433.3,904.5 1434.1,904.1 1434.9,899.2 1435.7,906.1 1436.5,903.0 1437.3,900.4 1438.1,908.1 1438.9,903.7 1439.7,909.7 1440.5,895.6 1441.3,908.9 1442.1,904.0 1442.9,910.5 1443.7,903.8 1444.5,901.2 1445.3,900.2 1446.1,904.0 1446.9,887.3 1447.7,899.3 1448.5,890.7 1449.3,909.1 1450.1,900.5 1450.9,894.7 1451.7,869.3 1452.5,895.4 1453.3,892.7 1454.1,893.7 1454.9,894.4 1455.7,890.5 1456.5,887.5 1457.3,891.2 1458.1,891.3 1458.9,891.2 1459.7,890.0 1460.5,892.2 1461.3,880.9 1462.1,892.2 1462.9,881.8 1463.7,884.5 1464.5,874.8 1465.3,876.3 1466.1,876.3 1466.9,862.8 1467.7,851.1 1468.5,842.0 1469.3,833.4 1470.1,830.5 1470.9,832.7 1471.7,850.3 1472.5,863.5 1473.3,876.7 1474.1,868.8 1474.9,880.4 1475.7,891.0 1476.5,890.9 1477.3,899.0 1478.1,902.1 1478.9,887.6 1479.7,905.2 1480.5,902.4 1481.3,901.9 1482.1,907.0 1482.9,903.0 1483.7,899.5 1484.5,913.3 1485.3,908.6 1486.1,908.4 1486.9,906.5 1487.7,899.4 1488.5,904.7 1489.3,911.0 1490.1,904.9 1490.9,902.4 1491.7,902.1 1492.5,898.5 1493.3,897.5 1494.1,894.3 1494.9,888.3 1495.7,886.2 1496.5,881.7 1497.3,876.0 1498.1,881.4 1498.9,858.9 1499.7,845.7 1500.5,842.4 1501.3,822.5 1502.1,841.6 1502.9,833.5 1503.7,839.5 1504.5,847.6 1505.3,858.2 1506.1,856.8 1506.9,873.0 1507.7,876.9 1508.5,883.6 1509.3,891.6 1510.1,890.0 1510.9,903.1 1511.7,899.0 1512.5,909.5 1513.3,901.4 1514.1,905.3 1514.9,899.1 1515.7,910.7 1516.5,908.1 1517.3,905.8 1518.1,898.9 1518.9,917.7 1519.7,912.0 1520.5,910.8 1521.3,912.6 1522.1,909.2 1522.9,912.2 1523.7,906.0 1524.5,907.5 1525.3,913.5 1526.1,901.5 1526.9,907.3 1527.7,901.6 1528.5,921.3 1529.3,906.1 1530.1,908.3 1530.9,908.3 1531.7,904.4 1532.5,906.5 1533.3,904.9 1534.1,911.2 1534.9,903.9 1535.7,916.3 1536.5,906.9 1537.3,908.4 1538.1,910.0 1538.9,907.7 1539.7,905.3 1540.5,900.4 1541.3,902.4 1542.1,903.7 1542.9,906.6 1543.7,904.2 1544.5,904.1 1545.3,913.9 1546.1,908.8 1546.9,910.0 1547.7,905.5 1548.5,906.9 1549.3,907.6 1550.1,906.0 1550.9,910.4 1551.7,911.9 1552.5,908.1 1553.3,909.4 1554.1,916.0 1554.9,905.8 1555.7,912.1 1556.5,919.2 1557.3,917.2 1558.1,917.1 1558.9,921.9 1559.7,921.0 1560.5,919.1 1561.3,911.6 1562.1,912.2 1562.9,914.5 1563.7,923.1 1564.5,915.9 1565.3,916.8 1566.1,927.5 1566.9,917.6 1567.7,920.2 1568.5,913.6 1569.3,916.6 1570.1,913.8 1570.9,913.3 1571.7,913.5 1572.5,916.3 1573.3,922.5 1574.1,920.0 1574.9,922.4 1575.7,917.2 1576.5,926.5 1577.3,917.8 1578.1,918.8 1578.9,923.1 1579.7,918.3 1580.5,920.5 1581.3,925.2 1582.1,921.5 1582.9,918.2 1583.7,924.0 1584.5,915.5 1585.3,916.7 1586.1,920.7 1586.9,920.9 1587.7,912.0 1588.5,919.9 1589.3,915.6 1590.1,905.7 1590.9,902.0 1591.7,901.6 1592.5,883.6 1593.3,892.4 1594.1,876.5 1594.9,865.0 1595.7,871.1 1596.5,883.1 1597.3,903.6 1598.1,904.3 1598.9,914.4 1599.7,913.6 1600.5,919.2 1601.3,905.2 1602.1,914.1 1602.9,918.9 1603.7,918.6 1604.5,914.5 1605.3,917.5 1606.1,917.0 1606.9,922.6 1607.7,922.1 1608.5,926.3 1609.3,922.8 1610.1,925.3 1610.9,927.2 1611.7,928.3 1612.5,924.5 1613.3,926.2 1614.1,931.8 1614.9,919.2 1615.7,927.2 1616.5,927.0 1617.3,925.0 1618.1,920.2 1618.9,925.0 1619.7,922.9 1620.5,923.2 1621.3,921.9 1622.1,920.7 1622.9,923.5 1623.7,919.4 1624.5,925.3 1625.3,923.1 1626.1,921.1 1626.9,922.5 1627.7,924.6 1628.5,921.2 1629.3,924.5 1630.1,929.5 1630.9,923.6 1631.7,925.6 1632.5,920.9 1633.3,923.2 1634.1,918.8 1634.9,927.3 1635.7,921.2 1636.5,925.0 1637.3,921.7 1638.1,923.9 1638.9,921.3 1639.7,921.2 1640.5,931.7 1641.3,930.1 1642.1,924.8 1642.9,923.2 1643.7,923.5 1644.5,920.6 1645.3,924.1 1646.1,926.7 1646.9,917.6 1647.7,928.5 1648.5,922.4 1649.3,925.6 1650.1,922.6 1650.9,914.4 1651.7,917.4 1652.5,924.9 1653.3,924.5 1654.1,919.0 1654.9,933.7 1655.7,921.5 1656.5,932.2 1657.3,922.7 1658.1,927.1 1658.9,925.2 1659.7,923.5 1660.5,927.9 1661.3,924.0 1662.1,920.0 1662.9,926.2 1663.7,922.3 1664.5,922.4 1665.3,923.2 1666.1,926.3 1666.9,927.8 1667.7,928.6 1668.5,924.3 1669.3,928.9 1670.1,924.9 1670.9,923.1 1671.7,926.1 1672.5,926.5 1673.3,922.7 1674.1,919.5 1674.9,923.3 1675.7,922.0 1676.5,918.4 1677.3,922.0 1678.1,922.0 1678.9,922.6 1679.7,924.5 1680.5,926.2 1681.3,917.6 1682.1,923.7 1682.9,925.7 1683.7,917.3 1684.5,927.5 1685.3,925.3 1686.1,940.2 1686.9,926.9 1687.7,922.3 1688.5,925.1 1689.3,923.1 1690.1,926.0 1690.9,920.6 1691.7,925.9 1692.5,923.6 1693.3,922.4 1694.1,925.1 1694.9,924.4 1695.7,934.7 1696.5,924.1 1697.3,927.3 1698.1,919.4 1698.9,921.1 1699.7,927.0 1700.5,921.4 1701.3,916.0 1702.1,919.7 1702.9,920.7 1703.7,920.0 1704.5,920.9 1705.3,926.4 1706.1,921.5 1706.9,924.3 1707.7,934.4 1708.5,920.8 1709.3,920.7 1710.1,912.4 1710.9,924.9 1711.7,922.7 1712.5,911.2 1713.3,924.9 1714.1,924.1 1714.9,914.2 1715.7,914.3 1716.5,925.9 1717.3,918.9 1718.1,921.3 1718.9,924.0 1719.7,923.6 1720.5,921.7 1721.3,927.0 1722.1,927.7 1722.9,923.6 1723.7,932.1 1724.5,928.9 1725.3,926.7 1726.1,918.8 1726.9,923.1 1727.7,923.5 1728.5,928.1 1729.3,922.8 1730.1,928.8 1730.9,927.7 1731.7,923.2 1732.5,924.1 1733.3,933.1 1734.1,921.9 1734.9,911.5 1735.7,921.9 1736.5,924.7 1737.3,926.1 1738.1,925.0 1738.9,930.4 1739.7,926.7 1740.5,926.3 1741.3,927.4 1742.1,927.7 1742.9,925.1 1743.7,926.9 1744.5,926.5 1745.3,925.4 1746.1,924.8 1746.9,921.8 1747.7,924.2 1748.5,919.4 1749.3,925.9 1750.1,924.0 1750.9,917.2 1751.7,922.8 1752.5,922.0 1753.3,914.7 1754.1,920.6 1754.9,922.9 1755.7,926.1 1756.5,922.2 1757.3,925.3 1758.1,926.0 1758.9,929.0 1759.7,923.3 1760.5,924.9 1761.3,922.9 1762.1,922.8 1762.9,923.9 1763.7,924.5 1764.5,926.8 1765.3,926.0 1766.1,926.7 1766.9,920.0 1767.7,923.1 1768.5,923.7 1769.3,920.8 1770.1,917.9 1770.9,925.1 1771.7,935.5 1772.5,921.6 1773.3,925.0 1774.1,929.4 1774.9,924.4 1775.7,924.2 1776.5,921.8 1777.3,923.8 1778.1,926.8 1778.9,929.8 1779.7,923.6 1780.5,926.5 1781.3,916.8 1782.1,921.9 1782.9,923.7 1783.7,923.4 1784.5,927.9 1785.3,921.7 1786.1,910.2 1786.9,924.7 1787.7,932.3 1788.5,922.2 1789.3,919.9 1790.1,918.8 1790.9,919.8 1791.7,915.3 1792.5,918.8 1793.3,916.9 1794.1,913.3 1794.9,916.9 1795.7,917.5 1796.5,920.3 1797.3,914.7 1798.1,918.8 1798.9,912.5 1799.7,912.5 1800.5,914.9 1801.3,910.9 1802.1,913.1 1802.9,910.4 1803.7,910.3 1804.5,911.3 1805.3,916.4 1806.1,913.7 1806.9,911.2 1807.7,919.6 1808.5,915.3 1809.3,919.0 1810.1,919.3 1810.9,922.8 1811.7,919.0 1812.5,918.0 1813.3,921.8 1814.1,921.5 1814.9,922.2 1815.7,923.3 1816.5,921.6 1817.3,917.6 1818.1,922.5 1818.9,925.1 1819.7,919.0 1820.5,920.8 1821.3,919.9 1822.1,922.4 1822.9,911.1 1823.7,918.1 1824.5,920.9 1825.3,915.6 1826.1,918.4 1826.9,924.7 1827.7,917.5 1828.5,921.1 1829.3,919.4 1830.1,921.7 1830.9,920.0 1831.7,923.5 1832.5,918.5 1833.3,926.2 1834.1,922.7 1834.9,922.2 1835.7,919.2 1836.5,920.2 1837.3,913.4 1838.1,907.5 1838.9,894.4 1839.7,892.5 1840.5,906.6 1841.3,915.1 1842.1,921.5 1842.9,921.7 1843.7,911.5 1844.5,920.0 1845.3,918.9 1846.1,914.8 1846.9,914.1 1847.7,916.7 1848.5,912.0 1849.3,915.5 1850.1,918.3 1850.9,925.6 1851.7,922.0 1852.5,924.0 1853.3,934.8 1854.1,925.7 1854.9,931.3 1855.7,930.8 1856.5,933.9 1857.3,928.6 1858.1,928.5 1858.9,930.4 1859.7,930.1 1860.5,928.3 1861.3,927.8 1862.1,929.8 1862.9,931.5 1863.7,924.4 1864.5,931.6 1865.3,930.5 1866.1,928.1 1866.9,924.8 1867.7,927.3 1868.5,923.9 1869.3,928.7 1870.1,928.3 1870.9,928.4 1871.7,930.3 1872.5,925.1 1873.3,930.3 1874.1,928.0 1874.9,928.8 1875.7,929.7 1876.5,931.4 1877.3,931.8 1878.1,930.9 1878.9,931.3 1879.7,929.1 1880.5,929.1 1881.3,924.0 1882.1,932.5 1882.9,930.1 1883.7,930.2 1884.5,931.4 1885.3,928.6 1886.1,932.1 1886.9,925.6 1887.7,931.3 1888.5,930.1 1889.3,926.3 1890.1,927.7 1890.9,928.8 1891.7,925.0 1892.5,926.8 1893.3,928.3 1894.1,927.1 1894.9,924.4 1895.7,922.4 1896.5,927.4 1897.3,927.7 1898.1,929.8 1898.9,928.0 1899.7,923.3 1900.5,921.3 1901.3,922.9 1902.1,927.9 1902.9,926.0 1903.7,926.9 1904.5,925.3 1905.3,922.7 1906.1,927.1 1906.9,918.0 1907.7,922.0 1908.5,921.5 1909.3,927.9 1910.1,933.3 1910.9,928.3 1911.7,928.1 1912.5,930.1 1913.3,932.4 1914.1,931.3 1914.9,924.3 1915.7,927.3 1916.5,935.9 1917.3,925.8 1918.1,923.6 1918.9,927.3 1919.7,925.7 1920.5,926.5 1921.3,932.2 1922.1,930.6 1922.9,923.5 1923.7,933.6 1924.5,925.7 1925.3,928.0 1926.1,925.5 1926.9,925.1 1927.7,928.2 1928.5,930.5 1929.3,928.3 1930.1,926.9 1930.9,926.2 1931.7,929.8 1932.5,919.7 1933.3,926.0 1934.1,924.4 1934.9,926.1 1935.7,926.0 1936.5,925.1 1937.3,921.5 1938.1,927.8 1938.9,932.1 1939.7,928.1 1940.5,927.0 1941.3,925.5 1942.1,928.9 1942.9,928.6 1943.7,932.5 1944.5,927.4 1945.3,936.5 1946.1,926.7 1946.9,930.2 1947.7,931.3 1948.5,928.8 1949.3,926.3 1950.1,932.1 1950.9,931.8 1951.7,934.1 1952.5,933.8 1953.3,935.4 1954.1,928.9 1954.9,939.2 1955.7,931.5 1956.5,931.8 1957.3,924.9 1958.1,931.7 1958.9,929.3 1959.7,929.1 1960.5,940.9 1961.3,924.5 1962.1,926.2 1962.9,927.6 1963.7,927.8 1964.5,924.7 1965.3,924.8 1966.1,927.7 1966.9,925.4 1967.7,929.9 1968.5,927.7 1969.3,925.9 1970.1,932.9 1970.9,930.8 1971.7,933.0 1972.5,930.1 1973.3,931.1 1974.1,929.0 1974.9,925.7 1975.7,928.7 1976.5,928.1 1977.3,928.0 1978.1,929.4 1978.9,932.4 1979.7,930.2 1980.5,929.2 1981.3,931.2 1982.1,925.5 1982.9,932.1 1983.7,927.8 1984.5,930.3 1985.3,929.6 1986.1,929.5 1986.9,930.9 1987.7,927.0 1988.5,931.9 1989.3,926.5 1990.1,926.8 1990.9,922.1 1991.7,927.8 1992.5,926.8 1993.3,927.8 1994.1,925.3 1994.9,924.9 1995.7,928.3 1996.5,927.3 1997.3,929.0 1998.1,925.7 1998.9,924.6 1999.7,930.5 2000.5,928.7 2001.3,929.2 2002.1,928.7 2002.9,928.1 2003.7,927.1 2004.5,923.2 2005.3,927.4 2006.1,926.6 2006.9,925.9 2007.7,923.5 2008.5,924.7 2009.3,928.1 2010.1,928.7 2010.9,924.4 2011.7,930.1 2012.5,927.2 2013.3,931.4 2014.1,929.1 2014.9,928.2 2015.7,933.3 2016.5,925.1 2017.3,933.0 2018.1,932.7 2018.9,935.4 2019.7,934.7 2020.5,934.3 2021.3,936.4 2022.1,930.2 2022.9,935.3 2023.7,939.7 2024.5,929.9 2025.3,929.6 2026.1,931.0 2026.9,929.5 2027.7,933.5 2028.5,933.8 2029.3,927.5 2030.1,928.9 2030.9,933.4 2031.7,927.0 2032.5,927.4"/>
</g>
<g font-size="84.5" text-anchor="middle">
<text x="147.5" y="1516.6">20</text>
<text x="416.7" y="1516.6">30</text>
<text x="685.9" y="1516.6">40</text>
<text x="955.1" y="1516.6">50</text>
<text x="1224.4" y="1516.6">60</text>
<text x="1493.6" y="1516.6">70</text>
<text x="1762.8" y="1516.6">80</text>
<text x="2032.0" y="1516.6">90</text>
</g>
<text x="1027.8" y="1613.6" font-size="109.5">2<tspan class="dsr" x="1083.9" y="1613.7" font-size="87" style="font-family:'DejaVu Serif','DejaVu Sans',serif">θ</tspan></text>
<text transform="translate(115 750.8) rotate(-90)" font-size="108.2" text-anchor="middle">Intensity (a.u.)</text>
<g font-size="84.3" text-anchor="end">
<text x="2028.5" y="1003">18 h-charged</text>
<text x="2028.5" y="1197.3">6 h-charged</text>
<text x="2028.5" y="1379.3">3 h-charged</text>
</g>
<g font-size="82.5" class="b">
<text class="ds" style="font-weight:normal" transform="matrix(0.5982 0 0 0.5748 1056.85 113.10)" font-size="100">♦</text>
<text x="1110" y="112.3">α<tspan dx="2.2">-</tspan><tspan dx="2.6">Mg</tspan></text>
<text class="ds" style="font-weight:normal" transform="matrix(0.6291 0 0 0.5706 1349.72 112.80)" font-size="100">♣</text>
<text x="1406" y="112.3">β<tspan dx="-2">-</tspan><tspan dx="3">Li</tspan></text>
<text class="dm" style="font-weight:normal" transform="matrix(0.7181 0 0 0.6667 1594.98 112.00)" font-size="100">∇</text>
<text x="1671.5" y="112.3">Mg(OH)<tspan font-size="56" dy="25.7">2</tspan></text>
<text class="ds" style="font-weight:normal" transform="matrix(0.5132 0 0 0.5309 1061.63 261.50)" font-size="100">♥</text>
<text x="1131" y="260.7">Li<tspan font-size="56" dy="26">2</tspan><tspan dy="-26">CO</tspan><tspan font-size="56" dy="26">3</tspan></text>
<text class="lsb" style="font-weight:bold" transform="matrix(0.7814 0 0 0.7924 1429.57 261.50)" font-size="100">Ψ</text>
<text x="1511.7" y="260.7">LiOH</text>
</g>
<g>
<text class="ds" style="font-weight:normal" transform="matrix(0.7750 0 0 0.7133 439.78 744.90)" font-size="100">♦</text>
<text class="ds" style="font-weight:normal" transform="matrix(0.7750 0 0 0.7133 509.78 746.90)" font-size="100">♦</text>
<text class="ds" style="font-weight:normal" transform="matrix(0.7750 0 0 0.7133 564.78 225.00)" font-size="100">♦</text>
<text class="ds" style="font-weight:normal" transform="matrix(0.7750 0 0 0.7133 874.58 749.00)" font-size="100">♦</text>
<text class="ds" style="font-weight:normal" transform="matrix(0.7750 0 0 0.7133 1159.98 851.90)" font-size="100">♦</text>
<text class="ds" style="font-weight:normal" transform="matrix(0.7750 0 0 0.7133 1296.88 838.90)" font-size="100">♦</text>
<text class="ds" style="font-weight:normal" transform="matrix(0.7750 0 0 0.7133 1393.68 881.70)" font-size="100">♦</text>
<text class="ds" style="font-weight:normal" transform="matrix(0.7750 0 0 0.7133 1430.78 818.90)" font-size="100">♦</text>
<text class="ds" style="font-weight:normal" transform="matrix(0.7750 0 0 0.7133 1560.78 845.90)" font-size="100">♦</text>
<text class="ds" style="font-weight:normal" transform="matrix(0.7750 0 0 0.7133 1801.98 882.10)" font-size="100">♦</text>
<text class="ds" style="font-weight:normal" transform="matrix(0.6606 0 0 0.6859 442.92 679.90)" font-size="100">♥</text>
<text class="ds" style="font-weight:normal" transform="matrix(0.6565 0 0 0.6804 569.96 162.60)" font-size="100">♥</text>
<text class="ds" style="font-weight:normal" transform="matrix(0.7478 0 0 0.6722 535.40 836.00)" font-size="100">♣</text>
<text class="ds" style="font-weight:normal" transform="matrix(0.7522 0 0 0.6722 1690.25 892.00)" font-size="100">♣</text>
<text class="dm" style="font-weight:normal" transform="matrix(0.5981 0 0 0.5583 613.12 720.03)" font-size="100">∇</text>
<text class="dm" style="font-weight:normal" transform="matrix(0.5966 0 0 0.5528 943.94 862.84)" font-size="100">∇</text>
<text class="dm" style="font-weight:normal" transform="matrix(0.5981 0 0 0.5528 1249.32 875.84)" font-size="100">∇</text>
<text class="dsr" style="font-weight:normal" transform="matrix(0.7584 0 0 0.6864 1128.12 818.12)" font-size="100">ψ</text>
<text class="dsr" style="font-weight:normal" transform="matrix(0.7568 0 0 0.6988 1479.43 788.07)" font-size="100">ψ</text>
</g>
</svg>
</body></html>
